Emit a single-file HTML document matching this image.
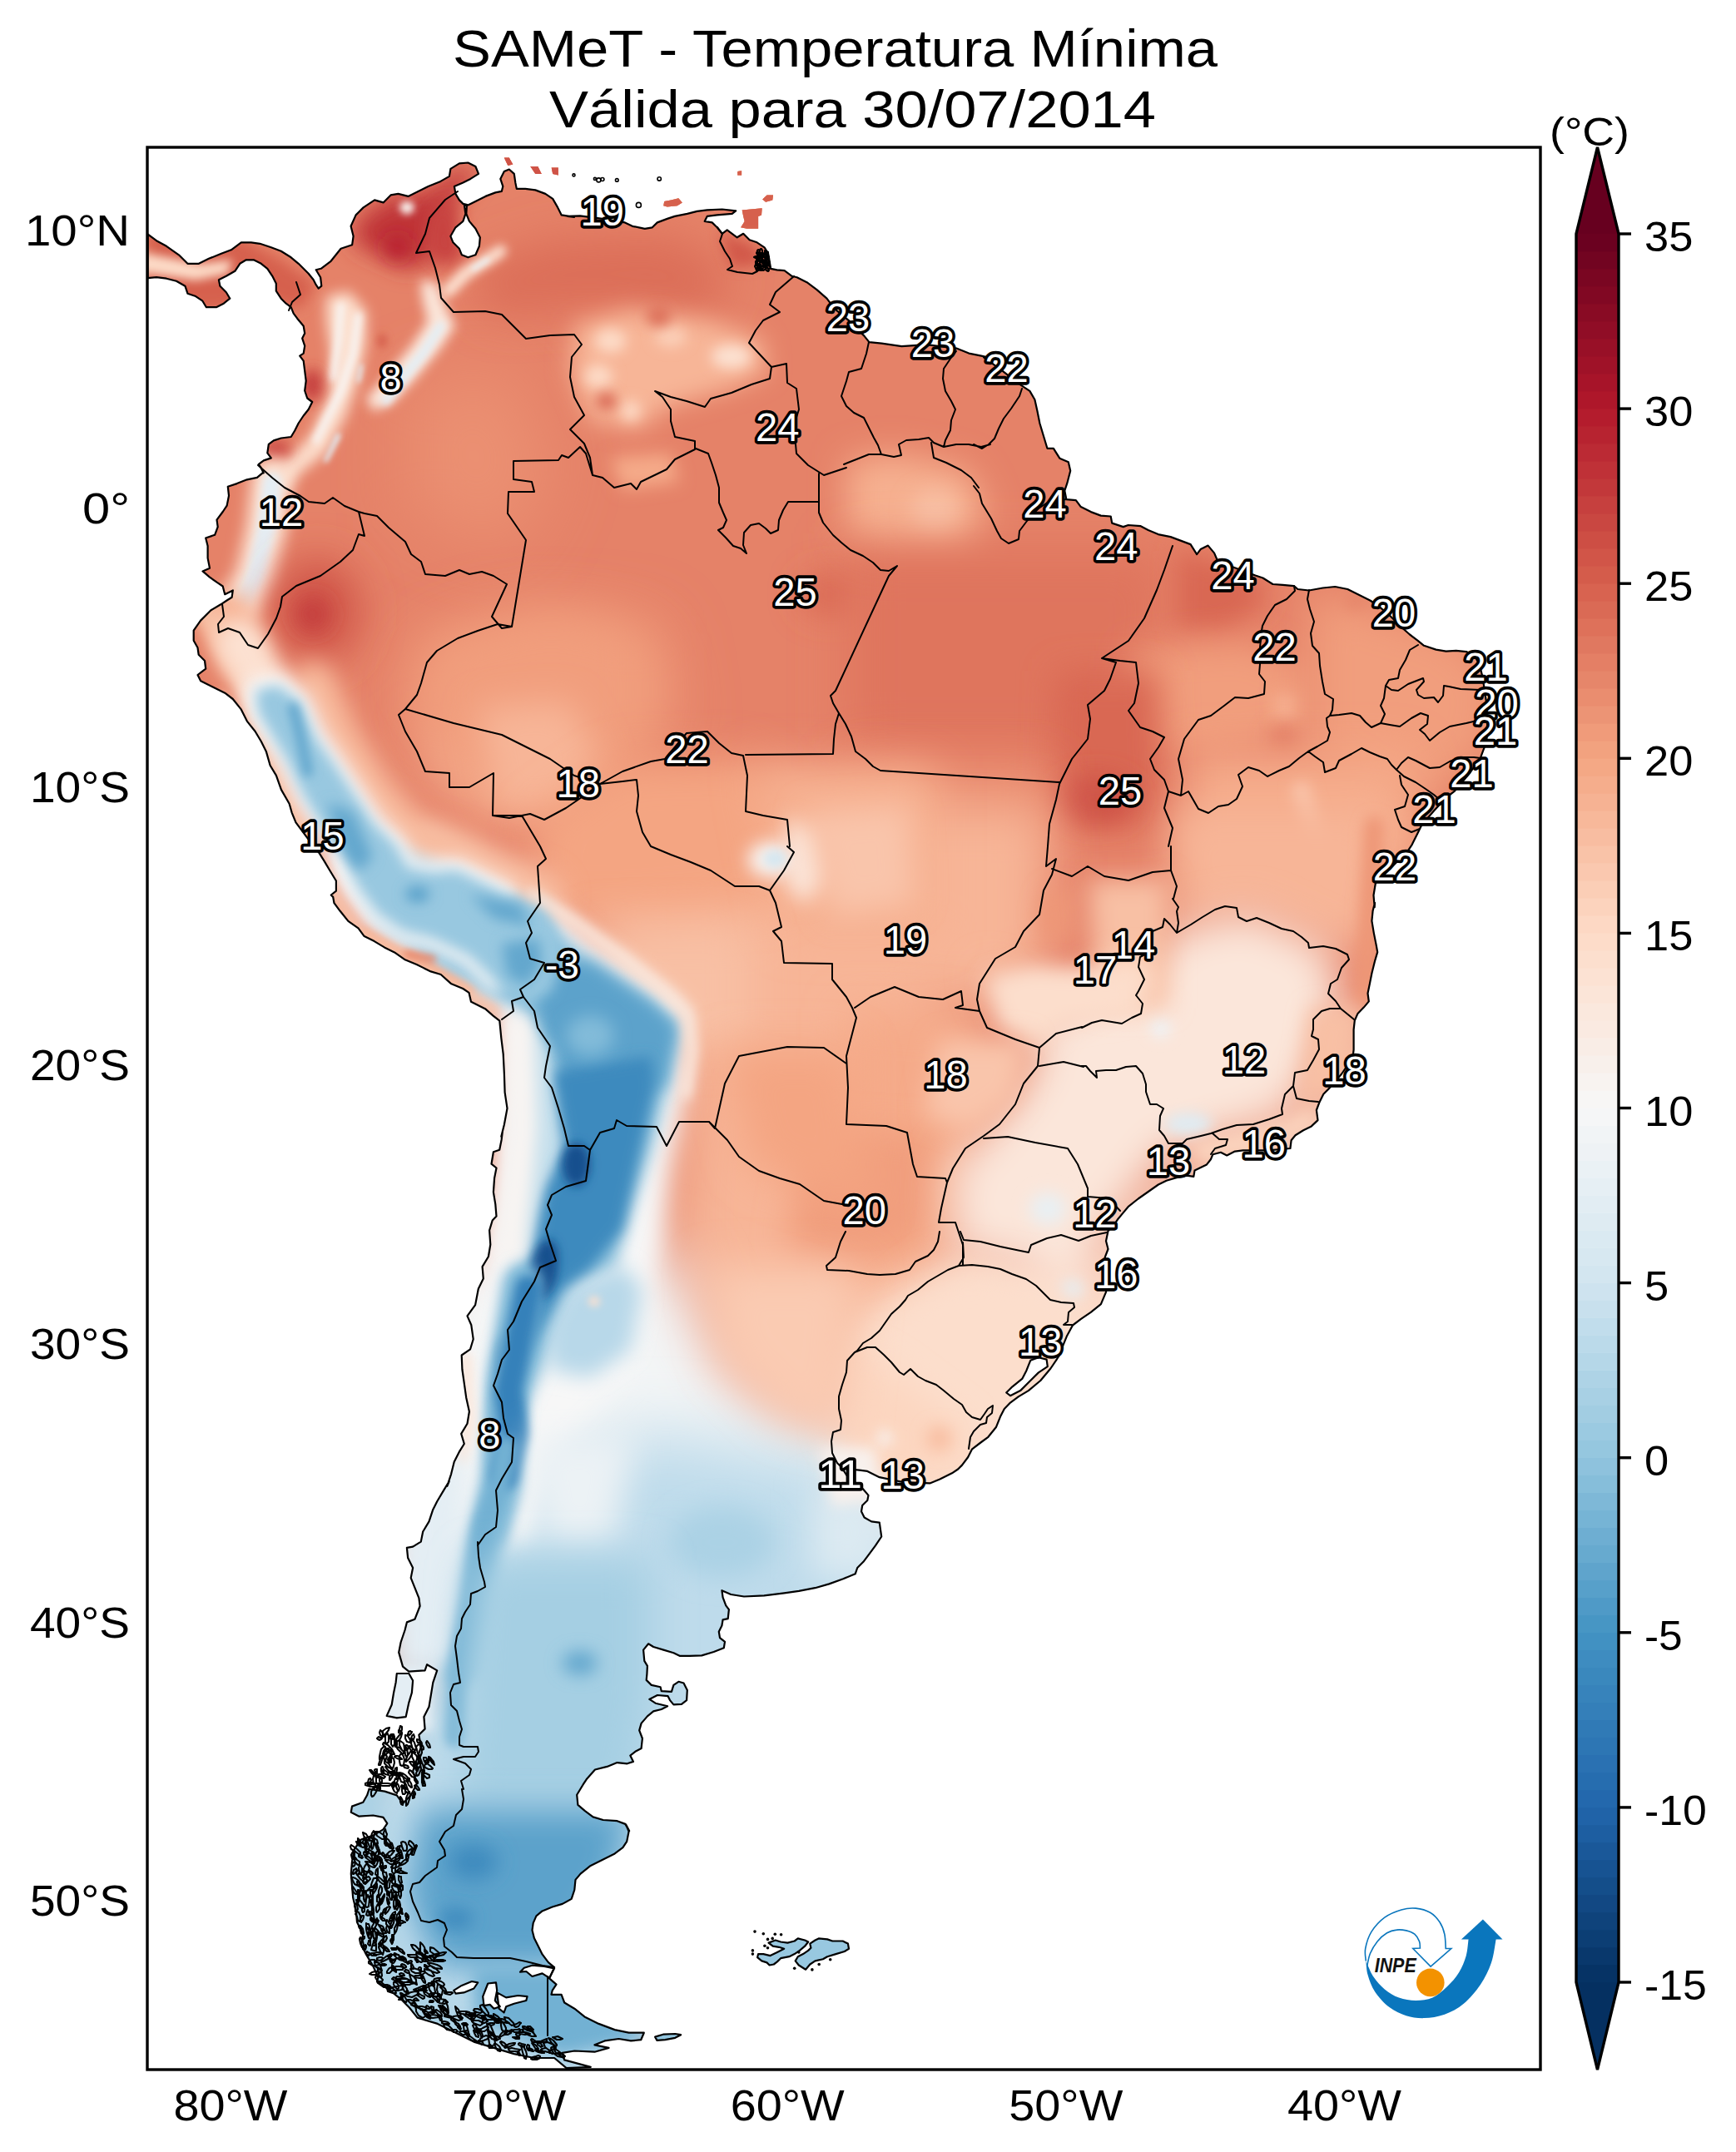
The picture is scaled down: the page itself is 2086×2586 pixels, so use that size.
<!DOCTYPE html><html><head><meta charset="utf-8"><title>SAMeT</title>
<style>html,body{margin:0;padding:0;background:#fff}svg{display:block}text{font-family:"Liberation Sans",sans-serif}</style></head><body>
<svg width="2086" height="2586" viewBox="0 0 2086 2586">
<defs>
<clipPath id="axclip"><rect x="177" y="177" width="1674" height="2310"/></clipPath>
<clipPath id="land" clip-rule="evenodd"><path clip-rule="evenodd" d="M177.5,281.4 L188.0,289.2 L200.0,295.8 L214.9,306.3 L225.4,316.8 L238.9,316.8 L250.9,310.8 L265.9,304.8 L277.8,300.3 L289.8,291.3 L301.8,291.3 L312.3,292.8 L325.8,297.3 L337.7,301.8 L349.7,309.3 L358.7,316.8 L364.7,322.8 L370.7,328.8 L376.7,336.2 L379.7,342.2 L382.7,346.7 L386.3,343.7 L385.1,333.2 L379.7,324.3 L385.7,322.8 L397.6,313.8 L409.6,298.8 L423.1,294.3 L424.6,283.8 L421.6,271.8 L427.6,258.4 L436.6,249.4 L450.1,240.4 L460.6,243.4 L469.5,234.4 L478.5,232.9 L490.5,235.9 L499.5,231.4 L514.5,223.9 L529.4,217.9 L539.9,211.9 L541.4,202.9 L551.9,196.4 L562.4,195.5 L571.4,200.0 L575.0,208.9 L565.4,214.9 L556.4,219.4 L545.9,223.9 L547.4,232.9 L551.9,240.4 L556.4,244.9 L562.4,246.4 L571.4,241.9 L583.4,235.9 L595.3,231.4 L602.8,229.9 L604.3,223.9 L601.3,214.9 L605.8,205.9 L611.8,203.5 L617.8,208.9 L619.3,219.4 L620.8,226.9 L631.3,226.9 L643.3,228.4 L655.3,232.9 L664.2,238.9 L670.2,249.4 L674.7,258.4 L690.0,260.8 L682.0,259.9 L697.0,259.3 L723.9,262.9 L750.9,267.4 L759.9,271.8 L774.8,274.8 L783.8,273.3 L789.8,267.4 L801.8,262.9 L810.8,259.9 L825.8,256.9 L837.7,253.9 L849.7,252.4 L867.7,251.5 L884.2,253.3 L879.7,256.9 L861.7,258.4 L849.7,259.9 L846.7,265.9 L855.7,267.4 L861.7,273.3 L867.7,280.8 L873.7,276.3 L879.7,280.8 L885.7,285.3 L893.2,280.8 L900.6,288.3 L909.6,291.3 L918.6,297.3 L923.1,304.8 L924.6,313.8 L926.1,322.8 L933.6,324.3 L942.6,325.2 L951.6,331.8 L957.6,333.2 L969.5,339.2 L981.5,348.2 L993.5,358.7 L1002.5,370.7 L1020.5,385.7 L1038.4,403.6 L1044.4,411.1 L1059.4,412.6 L1083.4,416.2 L1113.3,414.1 L1149.3,418.6 L1164.2,424.6 L1179.2,427.6 L1190.0,430.0 L1182.0,429.4 L1202.9,444.4 L1223.9,460.9 L1229.9,464.8 L1237.4,469.9 L1243.4,480.3 L1246.4,493.8 L1249.4,508.8 L1253.9,523.8 L1258.4,538.8 L1265.9,538.8 L1273.3,550.7 L1283.8,555.2 L1286.2,565.7 L1282.3,580.7 L1279.3,589.7 L1281.4,600.2 L1292.8,601.1 L1298.8,609.1 L1310.8,615.1 L1322.8,619.6 L1334.7,620.5 L1336.2,628.6 L1349.7,633.1 L1355.7,631.0 L1370.7,632.2 L1379.7,637.0 L1391.7,642.1 L1406.6,645.1 L1418.6,649.6 L1430.6,654.1 L1438.1,666.1 L1442.6,660.1 L1451.6,655.6 L1459.1,664.6 L1463.5,675.0 L1484.5,682.5 L1508.5,691.5 L1517.5,694.5 L1529.4,702.0 L1541.4,702.9 L1554.9,704.1 L1559.4,708.0 L1572.9,709.5 L1589.4,706.5 L1604.3,705.0 L1619.3,708.0 L1631.3,714.0 L1646.3,721.5 L1655.3,727.5 L1655.3,727.4 L1669.8,739.5 L1684.4,754.0 L1694.0,762.5 L1703.7,769.8 L1711.0,775.8 L1725.5,780.6 L1737.6,782.6 L1749.7,781.9 L1761.8,783.1 L1771.5,787.9 L1777.5,797.6 L1781.1,812.1 L1783.5,826.6 L1786.0,843.5 L1787.2,862.9 L1787.2,879.8 L1786.0,891.9 L1782.3,901.6 L1778.7,911.3 L1766.6,928.2 L1754.5,942.7 L1747.3,951.2 L1737.6,958.5 L1723.1,974.2 L1708.5,991.1 L1702.5,1003.2 L1696.5,1015.3 L1691.6,1022.6 L1672.3,1041.9 L1652.9,1061.3 L1650.5,1075.8 L1651.7,1090.1 L1652.0,1084.8 L1649.6,1094.5 L1648.4,1106.6 L1650.8,1121.1 L1653.7,1135.6 L1655.2,1144.1 L1652.0,1155.0 L1648.4,1169.5 L1646.0,1181.6 L1643.5,1193.7 L1644.8,1203.4 L1638.7,1210.6 L1631.5,1217.9 L1627.8,1226.4 L1626.6,1237.3 L1626.6,1249.4 L1626.6,1261.5 L1625.4,1271.1 L1612.1,1290.5 L1597.6,1307.4 L1590.3,1314.7 L1585.5,1324.4 L1581.9,1334.0 L1583.5,1346.1 L1575.8,1353.4 L1566.1,1358.2 L1556.5,1364.3 L1551.6,1370.3 L1550.4,1380.0 L1522.6,1382.4 L1493.5,1382.4 L1483.9,1383.6 L1474.2,1388.5 L1466.9,1384.8 L1457.3,1387.3 L1454.8,1393.3 L1450.0,1399.4 L1442.7,1403.0 L1435.5,1406.6 L1434.3,1413.9 L1425.8,1412.7 L1413.7,1415.1 L1401.6,1418.7 L1391.9,1423.5 L1379.8,1432.0 L1367.7,1440.5 L1355.6,1450.2 L1349.6,1457.4 L1343.5,1464.7 L1338.7,1471.9 L1331.5,1479.2 L1329.0,1491.3 L1331.5,1501.0 L1327.8,1510.6 L1326.6,1520.1 L1331.4,1533.2 L1329.0,1552.6 L1322.9,1567.1 L1310.8,1576.8 L1298.7,1585.2 L1289.0,1592.5 L1281.8,1605.8 L1276.9,1617.9 L1272.1,1630.0 L1262.4,1644.5 L1250.3,1659.0 L1235.8,1671.1 L1223.7,1678.4 L1214.0,1685.6 L1206.8,1692.9 L1201.9,1702.6 L1197.1,1714.7 L1187.4,1726.8 L1177.7,1734.0 L1168.1,1741.3 L1163.2,1751.0 L1156.0,1760.6 L1151.1,1765.5 L1143.9,1770.3 L1129.4,1777.6 L1117.3,1782.4 L1085.8,1781.2 L1056.8,1775.2 L1042.3,1767.9 L1032.6,1766.7 L1020.5,1765.5 L1012.0,1764.3 L1018.1,1774.0 L1030.2,1783.6 L1037.4,1789.7 L1043.5,1796.9 L1042.3,1803.0 L1036.2,1809.0 L1035.0,1816.3 L1038.6,1823.5 L1047.1,1828.4 L1056.8,1829.6 L1058.0,1838.1 L1059.2,1846.5 L1051.9,1857.4 L1044.7,1867.1 L1037.4,1876.8 L1030.2,1884.0 L1027.7,1891.3 L1013.2,1897.3 L996.3,1903.4 L979.4,1908.2 L960.0,1911.9 L942.4,1914.4 L918.2,1917.3 L894.0,1918.5 L878.3,1916.0 L867.4,1911.2 L868.6,1919.7 L872.3,1929.4 L875.9,1934.2 L874.7,1945.1 L868.6,1946.3 L867.4,1953.5 L863.8,1960.8 L865.0,1968.1 L871.0,1972.9 L869.8,1980.2 L857.7,1985.0 L843.2,1989.4 L828.7,1989.8 L816.6,1989.8 L809.4,1986.2 L797.3,1982.6 L785.2,1979.0 L779.1,1975.3 L773.1,1982.6 L774.3,1995.9 L777.9,2001.9 L777.4,2011.6 L776.7,2018.9 L782.7,2024.9 L793.6,2027.3 L794.8,2032.2 L806.9,2032.9 L809.4,2024.9 L815.4,2020.8 L821.5,2022.5 L825.8,2031.0 L825.1,2043.1 L819.0,2047.9 L809.4,2048.4 L805.0,2043.1 L802.6,2038.2 L790.0,2037.0 L780.3,2041.9 L787.6,2046.7 L802.1,2050.3 L794.8,2054.0 L785.2,2056.4 L777.9,2062.4 L770.6,2070.9 L768.2,2079.4 L771.9,2089.0 L770.6,2101.1 L763.4,2104.8 L757.3,2109.6 L761.0,2116.9 L753.7,2119.3 L741.6,2118.1 L729.5,2122.9 L715.0,2126.5 L705.3,2137.4 L700.5,2144.7 L693.2,2156.8 L694.4,2168.9 L702.9,2176.1 L712.6,2183.4 L724.7,2187.0 L741.6,2188.2 L751.3,2191.9 L756.1,2200.1 L752.0,2192.3 L755.6,2200.8 L753.2,2212.9 L748.4,2220.2 L738.7,2227.4 L724.2,2234.7 L709.7,2241.9 L697.6,2251.6 L691.5,2258.9 L690.3,2271.0 L686.7,2281.9 L675.8,2287.9 L663.7,2291.5 L651.6,2296.4 L644.4,2302.4 L640.7,2310.9 L639.5,2319.4 L641.9,2329.0 L646.8,2338.7 L651.6,2348.4 L658.9,2358.1 L666.1,2364.1 L660.1,2377.4 L668.5,2384.7 L663.7,2391.9 L662.5,2396.8 L674.6,2396.8 L678.2,2406.5 L690.3,2413.7 L702.4,2423.4 L719.4,2431.9 L738.7,2439.1 L755.6,2442.7 L773.8,2442.7 L770.2,2451.2 L758.1,2452.4 L743.5,2450.0 L726.6,2452.4 L714.5,2457.3 L731.5,2460.9 L714.5,2465.7 L690.3,2464.5 L675.8,2466.9 L678.2,2475.4 L709.7,2483.9 L680.6,2485.1 L666.1,2473.0 L641.9,2473.0 L617.7,2468.1 L593.5,2460.9 L569.4,2453.6 L545.2,2441.5 L525.8,2431.9 L501.6,2424.6 L491.9,2412.5 L482.3,2402.8 L470.2,2393.1 L453.2,2381.0 L454.4,2376.2 L448.4,2362.9 L439.9,2348.4 L433.9,2336.3 L436.3,2324.2 L429.0,2309.7 L427.8,2295.2 L424.2,2280.6 L423.0,2266.1 L421.8,2251.6 L423.0,2237.1 L425.4,2222.6 L433.9,2210.5 L448.4,2205.6 L460.5,2198.4 L465.3,2191.1 L460.5,2183.9 L448.4,2181.5 L431.5,2182.7 L421.8,2177.8 L423.0,2170.6 L436.3,2165.7 L441.1,2157.3 L443.5,2150.0 L443.4,2149.9 L462.3,2152.6 L476.8,2157.4 L484.0,2167.1 L493.7,2157.4 L501.0,2142.9 L496.1,2128.4 L501.0,2113.9 L505.8,2099.4 L503.4,2084.8 L510.6,2077.6 L509.4,2063.1 L515.5,2051.0 L517.9,2036.5 L520.3,2021.9 L525.2,2007.4 L513.1,2000.2 L510.6,2007.4 L491.3,2008.6 L484.0,2002.6 L479.2,1985.6 L481.6,1973.5 L486.5,1959.0 L488.9,1949.4 L498.5,1945.7 L504.6,1930.0 L503.4,1920.3 L498.5,1908.2 L493.7,1896.1 L496.1,1884.0 L490.1,1871.9 L488.9,1859.8 L496.1,1858.6 L505.8,1852.6 L508.2,1840.5 L515.5,1828.4 L520.3,1813.9 L525.2,1804.2 L532.4,1792.1 L539.7,1780.0 L537.3,1785.8 L542.1,1771.3 L545.7,1756.8 L551.8,1744.7 L557.8,1735.0 L554.2,1722.9 L561.5,1710.8 L563.9,1696.3 L560.2,1679.4 L557.8,1662.4 L555.4,1645.5 L554.7,1628.5 L565.1,1621.3 L568.7,1609.2 L566.3,1592.3 L561.5,1581.4 L571.1,1568.1 L574.8,1548.7 L580.8,1536.6 L579.6,1522.1 L586.9,1510.0 L589.3,1495.5 L588.1,1478.5 L591.7,1466.5 L596.5,1461.6 L595.3,1447.1 L592.9,1432.6 L594.1,1415.6 L596.5,1403.5 L590.5,1398.7 L592.9,1384.2 L600.2,1381.8 L602.6,1369.7 L603.8,1360.0 L602.3,1365.8 L605.9,1351.3 L609.5,1331.9 L606.6,1312.6 L605.9,1290.8 L604.7,1266.6 L602.3,1247.3 L600.3,1226.7 L592.6,1220.6 L582.9,1212.2 L566.0,1203.7 L563.5,1192.8 L556.3,1188.0 L541.8,1181.9 L529.7,1171.0 L517.6,1167.4 L500.6,1159.0 L486.1,1152.9 L474.0,1144.4 L461.9,1138.4 L449.8,1131.1 L437.7,1125.1 L430.5,1115.4 L418.4,1106.9 L408.7,1094.8 L401.5,1085.2 L400.2,1077.9 L397.8,1075.5 L403.9,1070.6 L403.9,1058.5 L396.6,1046.5 L389.4,1034.4 L383.3,1024.7 L370.0,1007.7 L355.5,988.4 L350.6,976.3 L347.6,965.8 L337.9,948.9 L331.9,931.9 L324.6,919.8 L319.8,902.9 L313.7,890.8 L306.5,878.7 L296.8,866.6 L289.5,852.1 L279.8,840.0 L270.2,832.7 L255.6,825.5 L241.1,818.2 L237.5,811.0 L242.3,807.3 L247.2,803.7 L246.0,794.0 L238.7,786.8 L237.5,778.3 L232.7,769.8 L232.7,757.7 L241.1,745.6 L253.2,733.5 L265.3,726.3 L272.6,721.5 L278.6,717.8 L279.8,709.4 L270.2,714.2 L267.7,704.5 L260.5,699.7 L252.0,693.6 L243.5,686.4 L252.0,682.7 L249.6,670.6 L249.6,656.1 L247.2,646.5 L258.1,642.8 L261.7,633.1 L260.5,624.7 L267.7,615.0 L272.6,607.7 L275.0,595.6 L273.8,584.8 L284.7,581.1 L296.8,576.3 L308.9,573.9 L316.1,567.8 L316.8,568.4 L313.8,562.4 L310.8,557.9 L316.8,553.4 L325.8,550.4 L321.3,544.4 L322.8,533.9 L328.8,529.4 L337.7,526.5 L349.7,525.0 L354.2,517.5 L358.7,508.5 L364.7,499.5 L370.7,492.0 L375.2,483.0 L369.2,478.5 L366.2,469.5 L367.7,457.6 L366.2,445.6 L364.7,433.6 L360.2,427.6 L364.7,424.6 L366.2,415.6 L363.2,406.6 L366.2,400.6 L364.7,391.7 L357.2,382.7 L352.7,376.7 L349.7,369.2 L343.7,364.7 L337.7,358.7 L331.8,349.7 L331.8,340.7 L327.3,331.8 L321.3,322.8 L313.8,316.8 L304.8,312.3 L295.8,312.3 L288.3,316.8 L282.3,325.8 L271.8,331.8 L262.9,336.2 L264.4,343.7 L271.8,351.2 L276.3,358.7 L268.8,364.7 L259.9,369.2 L247.9,369.2 L243.4,361.7 L234.4,355.7 L225.4,352.7 L222.4,343.7 L211.9,337.7 L200.0,334.7 L188.0,333.2 L177.5,334.1ZM557.9,246.4 L559.4,256.9 L556.4,265.9 L547.4,273.3 L541.4,283.8 L544.4,291.3 L551.9,298.8 L554.9,306.3 L562.4,309.3 L571.4,306.3 L575.9,295.8 L576.8,285.3 L571.4,274.8 L563.9,265.9 L560.3,256.9 L560.9,247.3ZM1238.2,1634.8 L1247.9,1631.2 L1257.6,1633.6 L1258.8,1642.1 L1247.9,1649.4 L1238.2,1659.0 L1226.1,1671.1 L1214.0,1677.2 L1209.2,1673.5 L1216.5,1666.3 L1228.5,1656.6 L1233.4,1646.9ZM666.1,2365.3 L654.0,2362.9 L639.5,2361.7 L629.8,2364.8 L625.0,2369.7 L632.3,2369.0 L639.5,2375.0 L651.6,2371.4 L660.1,2376.9ZM545.2,2391.9 L554.8,2385.9 L566.9,2381.0 L574.2,2382.3 L569.4,2389.5 L557.3,2394.4 L547.6,2395.6ZM586.3,2383.5 L596.0,2382.3 L597.2,2391.9 L594.8,2404.0 L600.8,2411.3 L593.5,2413.7 L588.7,2408.9 L581.5,2410.1 L580.2,2399.2ZM597.2,2394.4 L608.1,2400.4 L622.6,2398.0 L633.5,2399.2 L632.3,2404.0 L617.7,2407.7 L608.1,2411.3 L605.6,2418.5 L599.6,2413.7 L598.4,2404.0ZM891.7,252.4 L915.6,250.3 L915.0,258.4 L911.1,259.9 L911.1,274.8 L897.6,274.8 L890.2,273.3 L894.7,265.9 L893.2,259.9ZM916.2,239.5 L921.6,234.4 L929.1,234.4 L928.2,240.4 L920.1,242.8ZM886.3,205.9 L891.1,205.3 L891.1,210.4 L886.3,210.4ZM798.2,241.9 L806.3,240.4 L815.3,238.3 L819.8,243.4 L813.8,247.3 L801.8,248.5 L797.3,247.3ZM476.8,2011.0 L491.3,2011.0 L496.1,2019.5 L494.9,2034.0 L491.3,2046.1 L487.7,2063.1 L476.8,2064.3 L464.7,2061.9 L470.7,2048.5 L473.1,2034.0 L475.6,2021.9ZM787.1,2447.6 L796.8,2444.7 L811.3,2444.0 L818.1,2445.2 L811.3,2448.8 L799.2,2451.2 L789.5,2451.9ZM923.5,2334.6 L931.8,2331.5 L938.1,2333.5 L946.4,2334.6 L954.7,2332.5 L958.8,2329.4 L967.1,2331.5 L971.2,2333.5 L967.1,2338.7 L960.9,2343.9 L954.7,2348.1 L948.4,2351.2 L938.1,2353.2 L933.9,2357.4 L929.8,2360.5 L924.6,2361.5 L921.5,2358.4 L915.3,2356.4 L910.1,2352.2 L911.1,2348.1 L917.3,2348.1 L925.6,2350.1 L933.9,2346.0 L942.2,2341.8 L936.0,2339.8 L928.7,2338.7ZM973.3,2335.6 L979.5,2331.5 L983.7,2329.4 L994.1,2330.4 L1000.3,2332.5 L1012.7,2332.5 L1018.9,2335.6 L1020.0,2341.8 L1014.8,2345.0 L1004.4,2348.1 L994.1,2351.2 L988.9,2354.3 L979.5,2356.4 L973.3,2360.5 L968.1,2366.7 L959.8,2361.5 L955.7,2356.4 L958.8,2351.2 L965.0,2348.1 L971.2,2343.9 L974.4,2340.8ZM605.8,189.5 L611.8,189.5 L616.3,197.6 L610.3,199.1ZM637.3,200.0 L646.3,200.0 L650.8,208.9 L643.3,208.9ZM662.7,201.5 L670.8,201.5 L670.8,210.4 L664.2,208.9Z"/></clipPath>
<linearGradient id="cb" x1="0" y1="1" x2="0" y2="0">
<stop offset="0.00" stop-color="#053061"/>
<stop offset="0.10" stop-color="#2166ac"/>
<stop offset="0.20" stop-color="#4393c3"/>
<stop offset="0.30" stop-color="#92c5de"/>
<stop offset="0.40" stop-color="#d1e5f0"/>
<stop offset="0.50" stop-color="#f7f7f7"/>
<stop offset="0.60" stop-color="#fddbc7"/>
<stop offset="0.70" stop-color="#f4a582"/>
<stop offset="0.80" stop-color="#d6604d"/>
<stop offset="0.90" stop-color="#b2182b"/>
<stop offset="1.00" stop-color="#67001f"/>
</linearGradient>
</defs>
<rect width="2086" height="2586" fill="#fff"/>
<g clip-path="url(#axclip)">
<g clip-path="url(#land)">
<rect x="177" y="177" width="1674" height="2310" fill="#e88a6c"/>
<defs><filter id="f0" filterUnits="userSpaceOnUse" x="554" y="886" width="698" height="925"><feGaussianBlur stdDeviation="35"/></filter><filter id="f1" filterUnits="userSpaceOnUse" x="360" y="1394" width="891" height="698"><feGaussianBlur stdDeviation="35"/></filter><filter id="f2" filterUnits="userSpaceOnUse" x="152" y="1597" width="1067" height="1284"><feGaussianBlur stdDeviation="40"/></filter><filter id="f3" filterUnits="userSpaceOnUse" x="1046" y="1119" width="789" height="813"><feGaussianBlur stdDeviation="30"/></filter><filter id="f4" filterUnits="userSpaceOnUse" x="940" y="1424" width="469" height="469"><feGaussianBlur stdDeviation="25"/></filter><filter id="f5" filterUnits="userSpaceOnUse" x="370" y="321" width="413" height="462"><feGaussianBlur stdDeviation="40"/></filter><filter id="f6" filterUnits="userSpaceOnUse" x="487" y="206" width="469" height="251"><feGaussianBlur stdDeviation="25"/></filter><filter id="f7" filterUnits="userSpaceOnUse" x="370" y="626" width="559" height="399"><feGaussianBlur stdDeviation="40"/></filter><filter id="f8" filterUnits="userSpaceOnUse" x="414" y="777" width="363" height="290"><feGaussianBlur stdDeviation="30"/></filter><filter id="f9" filterUnits="userSpaceOnUse" x="531" y="806" width="212" height="202"><feGaussianBlur stdDeviation="25"/></filter><filter id="f10" filterUnits="userSpaceOnUse" x="904" y="630" width="192" height="168"><feGaussianBlur stdDeviation="20"/></filter><filter id="f11" filterUnits="userSpaceOnUse" x="380" y="155" width="236" height="211"><feGaussianBlur stdDeviation="14"/></filter><filter id="f12" filterUnits="userSpaceOnUse" x="479" y="203" width="112" height="151"><feGaussianBlur stdDeviation="10"/></filter><filter id="f13" filterUnits="userSpaceOnUse" x="424" y="245" width="105" height="105"><feGaussianBlur stdDeviation="12"/></filter><filter id="f14" filterUnits="userSpaceOnUse" x="151" y="248" width="255" height="149"><feGaussianBlur stdDeviation="8"/></filter><filter id="f15" filterUnits="userSpaceOnUse" x="147" y="283" width="151" height="74"><feGaussianBlur stdDeviation="6"/></filter><filter id="f16" filterUnits="userSpaceOnUse" x="641" y="327" width="325" height="233"><feGaussianBlur stdDeviation="14"/></filter><filter id="f17" filterUnits="userSpaceOnUse" x="688" y="369" width="91" height="81"><feGaussianBlur stdDeviation="8"/></filter><filter id="f18" filterUnits="userSpaceOnUse" x="676" y="412" width="86" height="81"><feGaussianBlur stdDeviation="8"/></filter><filter id="f19" filterUnits="userSpaceOnUse" x="828" y="388" width="100" height="81"><feGaussianBlur stdDeviation="8"/></filter><filter id="f20" filterUnits="userSpaceOnUse" x="720" y="456" width="76" height="76"><feGaussianBlur stdDeviation="8"/></filter><filter id="f21" filterUnits="userSpaceOnUse" x="761" y="366" width="91" height="76"><feGaussianBlur stdDeviation="8"/></filter><filter id="f22" filterUnits="userSpaceOnUse" x="751" y="342" width="81" height="76"><feGaussianBlur stdDeviation="8"/></filter><filter id="f23" filterUnits="userSpaceOnUse" x="691" y="446" width="76" height="71"><feGaussianBlur stdDeviation="8"/></filter><filter id="f24" filterUnits="userSpaceOnUse" x="701" y="513" width="146" height="108"><feGaussianBlur stdDeviation="10"/></filter><filter id="f25" filterUnits="userSpaceOnUse" x="838" y="253" width="110" height="96"><feGaussianBlur stdDeviation="8"/></filter><filter id="f26" filterUnits="userSpaceOnUse" x="288" y="324" width="178" height="292"><feGaussianBlur stdDeviation="8"/></filter><filter id="f27" filterUnits="userSpaceOnUse" x="382" y="349" width="46" height="124"><feGaussianBlur stdDeviation="4"/></filter><filter id="f28" filterUnits="userSpaceOnUse" x="361" y="361" width="88" height="187"><feGaussianBlur stdDeviation="4"/></filter><filter id="f29" filterUnits="userSpaceOnUse" x="418" y="427" width="29" height="44"><feGaussianBlur stdDeviation="3"/></filter><filter id="f30" filterUnits="userSpaceOnUse" x="378" y="510" width="42" height="57"><feGaussianBlur stdDeviation="3"/></filter><filter id="f31" filterUnits="userSpaceOnUse" x="417" y="315" width="154" height="202"><feGaussianBlur stdDeviation="7"/></filter><filter id="f32" filterUnits="userSpaceOnUse" x="444" y="372" width="105" height="129"><feGaussianBlur stdDeviation="4"/></filter><filter id="f33" filterUnits="userSpaceOnUse" x="511" y="274" width="118" height="103"><feGaussianBlur stdDeviation="6"/></filter><filter id="f34" filterUnits="userSpaceOnUse" x="555" y="299" width="45" height="37"><feGaussianBlur stdDeviation="3"/></filter><filter id="f35" filterUnits="userSpaceOnUse" x="436" y="384" width="46" height="52"><feGaussianBlur stdDeviation="5"/></filter><filter id="f36" filterUnits="userSpaceOnUse" x="466" y="228" width="46" height="44"><feGaussianBlur stdDeviation="4"/></filter><filter id="f37" filterUnits="userSpaceOnUse" x="337" y="417" width="76" height="91"><feGaussianBlur stdDeviation="8"/></filter><filter id="f38" filterUnits="userSpaceOnUse" x="289" y="504" width="86" height="71"><feGaussianBlur stdDeviation="8"/></filter><filter id="f39" filterUnits="userSpaceOnUse" x="238" y="521" width="142" height="256"><feGaussianBlur stdDeviation="9"/></filter><filter id="f40" filterUnits="userSpaceOnUse" x="265" y="551" width="90" height="196"><feGaussianBlur stdDeviation="5"/></filter><filter id="f41" filterUnits="userSpaceOnUse" x="250" y="594" width="260" height="280"><feGaussianBlur stdDeviation="25"/></filter><filter id="f42" filterUnits="userSpaceOnUse" x="318" y="681" width="115" height="115"><feGaussianBlur stdDeviation="12"/></filter><filter id="f43" filterUnits="userSpaceOnUse" x="192" y="671" width="168" height="182"><feGaussianBlur stdDeviation="12"/></filter><filter id="f44" filterUnits="userSpaceOnUse" x="202" y="686" width="207" height="369"><feGaussianBlur stdDeviation="8"/></filter><filter id="f45" filterUnits="userSpaceOnUse" x="221" y="705" width="182" height="216"><feGaussianBlur stdDeviation="12"/></filter><filter id="f46" filterUnits="userSpaceOnUse" x="955" y="483" width="293" height="240"><feGaussianBlur stdDeviation="20"/></filter><filter id="f47" filterUnits="userSpaceOnUse" x="1056" y="550" width="134" height="124"><feGaussianBlur stdDeviation="12"/></filter><filter id="f48" filterUnits="userSpaceOnUse" x="925" y="569" width="571" height="426"><feGaussianBlur stdDeviation="30"/></filter><filter id="f49" filterUnits="userSpaceOnUse" x="1367" y="614" width="205" height="191"><feGaussianBlur stdDeviation="15"/></filter><filter id="f50" filterUnits="userSpaceOnUse" x="1294" y="710" width="342" height="255"><feGaussianBlur stdDeviation="20"/></filter><filter id="f51" filterUnits="userSpaceOnUse" x="1498" y="803" width="93" height="93"><feGaussianBlur stdDeviation="10"/></filter><filter id="f52" filterUnits="userSpaceOnUse" x="1290" y="798" width="93" height="103"><feGaussianBlur stdDeviation="10"/></filter><filter id="f53" filterUnits="userSpaceOnUse" x="1202" y="744" width="259" height="313"><feGaussianBlur stdDeviation="20"/></filter><filter id="f54" filterUnits="userSpaceOnUse" x="1222" y="885" width="191" height="152"><feGaussianBlur stdDeviation="15"/></filter><filter id="f55" filterUnits="userSpaceOnUse" x="1487" y="836" width="115" height="105"><feGaussianBlur stdDeviation="12"/></filter><filter id="f56" filterUnits="userSpaceOnUse" x="1618" y="768" width="76" height="76"><feGaussianBlur stdDeviation="8"/></filter><filter id="f57" filterUnits="userSpaceOnUse" x="1589" y="693" width="76" height="71"><feGaussianBlur stdDeviation="8"/></filter><filter id="f58" filterUnits="userSpaceOnUse" x="1496" y="632" width="381" height="420"><feGaussianBlur stdDeviation="25"/></filter><filter id="f59" filterUnits="userSpaceOnUse" x="1351" y="826" width="444" height="299"><feGaussianBlur stdDeviation="25"/></filter><filter id="f60" filterUnits="userSpaceOnUse" x="1526" y="913" width="105" height="172"><feGaussianBlur stdDeviation="8"/></filter><filter id="f61" filterUnits="userSpaceOnUse" x="925" y="835" width="426" height="305"><feGaussianBlur stdDeviation="30"/></filter><filter id="f62" filterUnits="userSpaceOnUse" x="780" y="877" width="571" height="426"><feGaussianBlur stdDeviation="30"/></filter><filter id="f63" filterUnits="userSpaceOnUse" x="940" y="1134" width="338" height="469"><feGaussianBlur stdDeviation="25"/></filter><filter id="f64" filterUnits="userSpaceOnUse" x="882" y="1294" width="308" height="293"><feGaussianBlur stdDeviation="20"/></filter><filter id="f65" filterUnits="userSpaceOnUse" x="1327" y="892" width="420" height="323"><feGaussianBlur stdDeviation="25"/></filter><filter id="f66" filterUnits="userSpaceOnUse" x="1061" y="1017" width="628" height="633"><feGaussianBlur stdDeviation="25"/></filter><filter id="f67" filterUnits="userSpaceOnUse" x="1373" y="1311" width="110" height="79"><feGaussianBlur stdDeviation="8"/></filter><filter id="f68" filterUnits="userSpaceOnUse" x="1205" y="1401" width="108" height="103"><feGaussianBlur stdDeviation="10"/></filter><filter id="f69" filterUnits="userSpaceOnUse" x="1247" y="1511" width="81" height="76"><feGaussianBlur stdDeviation="8"/></filter><filter id="f70" filterUnits="userSpaceOnUse" x="1356" y="1197" width="76" height="76"><feGaussianBlur stdDeviation="8"/></filter><filter id="f71" filterUnits="userSpaceOnUse" x="1211" y="1027" width="115" height="144"><feGaussianBlur stdDeviation="12"/></filter><filter id="f72" filterUnits="userSpaceOnUse" x="1260" y="1009" width="191" height="249"><feGaussianBlur stdDeviation="15"/></filter><filter id="f73" filterUnits="userSpaceOnUse" x="1275" y="1101" width="162" height="152"><feGaussianBlur stdDeviation="15"/></filter><filter id="f74" filterUnits="userSpaceOnUse" x="1603" y="955" width="86" height="284"><feGaussianBlur stdDeviation="8"/></filter><filter id="f75" filterUnits="userSpaceOnUse" x="1521" y="1173" width="153" height="192"><feGaussianBlur stdDeviation="12"/></filter><filter id="f76" filterUnits="userSpaceOnUse" x="1396" y="1295" width="219" height="137"><feGaussianBlur stdDeviation="10"/></filter><filter id="f77" filterUnits="userSpaceOnUse" x="940" y="1448" width="425" height="372"><feGaussianBlur stdDeviation="25"/></filter><filter id="f78" filterUnits="userSpaceOnUse" x="940" y="1560" width="284" height="284"><feGaussianBlur stdDeviation="20"/></filter><filter id="f79" filterUnits="userSpaceOnUse" x="1082" y="1682" width="93" height="93"><feGaussianBlur stdDeviation="10"/></filter><filter id="f80" filterUnits="userSpaceOnUse" x="1027" y="1693" width="71" height="71"><feGaussianBlur stdDeviation="8"/></filter><filter id="f81" filterUnits="userSpaceOnUse" x="409" y="641" width="466" height="434"><feGaussianBlur stdDeviation="30"/></filter><filter id="f82" filterUnits="userSpaceOnUse" x="511" y="780" width="273" height="253"><feGaussianBlur stdDeviation="20"/></filter><filter id="f83" filterUnits="userSpaceOnUse" x="565" y="834" width="477" height="343"><feGaussianBlur stdDeviation="25"/></filter><filter id="f84" filterUnits="userSpaceOnUse" x="827" y="838" width="376" height="364"><feGaussianBlur stdDeviation="25"/></filter><filter id="f85" filterUnits="userSpaceOnUse" x="632" y="1037" width="348" height="299"><feGaussianBlur stdDeviation="25"/></filter><filter id="f86" filterUnits="userSpaceOnUse" x="792" y="1182" width="333" height="348"><feGaussianBlur stdDeviation="25"/></filter><filter id="f87" filterUnits="userSpaceOnUse" x="341" y="958" width="528" height="943"><feGaussianBlur stdDeviation="14"/></filter><filter id="f88" filterUnits="userSpaceOnUse" x="387" y="980" width="461" height="909"><feGaussianBlur stdDeviation="10"/></filter><filter id="f89" filterUnits="userSpaceOnUse" x="600" y="1125" width="245" height="214"><feGaussianBlur stdDeviation="10"/></filter><filter id="f90" filterUnits="userSpaceOnUse" x="580" y="1203" width="132" height="330"><feGaussianBlur stdDeviation="10"/></filter><filter id="f91" filterUnits="userSpaceOnUse" x="618" y="1482" width="192" height="211"><feGaussianBlur stdDeviation="12"/></filter><filter id="f92" filterUnits="userSpaceOnUse" x="567" y="1243" width="246" height="575"><feGaussianBlur stdDeviation="8"/></filter><filter id="f93" filterUnits="userSpaceOnUse" x="648" y="1188" width="122" height="112"><feGaussianBlur stdDeviation="10"/></filter><filter id="f94" filterUnits="userSpaceOnUse" x="655" y="1353" width="74" height="93"><feGaussianBlur stdDeviation="6"/></filter><filter id="f95" filterUnits="userSpaceOnUse" x="616" y="1469" width="76" height="111"><feGaussianBlur stdDeviation="6"/></filter><filter id="f96" filterUnits="userSpaceOnUse" x="579" y="1582" width="67" height="98"><feGaussianBlur stdDeviation="6"/></filter><filter id="f97" filterUnits="userSpaceOnUse" x="443" y="1025" width="146" height="111"><feGaussianBlur stdDeviation="10"/></filter><filter id="f98" filterUnits="userSpaceOnUse" x="530" y="1053" width="126" height="112"><feGaussianBlur stdDeviation="10"/></filter><filter id="f99" filterUnits="userSpaceOnUse" x="415" y="1098" width="172" height="116"><feGaussianBlur stdDeviation="5"/></filter><filter id="f100" filterUnits="userSpaceOnUse" x="561" y="1183" width="117" height="369"><feGaussianBlur stdDeviation="10"/></filter><filter id="f101" filterUnits="userSpaceOnUse" x="690" y="1541" width="49" height="46"><feGaussianBlur stdDeviation="5"/></filter><filter id="f102" filterUnits="userSpaceOnUse" x="306" y="751" width="417" height="393"><feGaussianBlur stdDeviation="14"/></filter><filter id="f103" filterUnits="userSpaceOnUse" x="261" y="778" width="393" height="447"><feGaussianBlur stdDeviation="10"/></filter><filter id="f104" filterUnits="userSpaceOnUse" x="239" y="812" width="381" height="429"><feGaussianBlur stdDeviation="6"/></filter><filter id="f105" filterUnits="userSpaceOnUse" x="471" y="1128" width="67" height="43"><feGaussianBlur stdDeviation="4"/></filter><filter id="f106" filterUnits="userSpaceOnUse" x="281" y="797" width="420" height="438"><feGaussianBlur stdDeviation="8"/></filter><filter id="f107" filterUnits="userSpaceOnUse" x="326" y="824" width="70" height="130"><feGaussianBlur stdDeviation="6"/></filter><filter id="f108" filterUnits="userSpaceOnUse" x="368" y="938" width="106" height="136"><feGaussianBlur stdDeviation="8"/></filter><filter id="f109" filterUnits="userSpaceOnUse" x="461" y="1040" width="82" height="70"><feGaussianBlur stdDeviation="8"/></filter><filter id="f110" filterUnits="userSpaceOnUse" x="538" y="1049" width="127" height="91"><feGaussianBlur stdDeviation="8"/></filter><filter id="f111" filterUnits="userSpaceOnUse" x="577" y="1102" width="100" height="109"><feGaussianBlur stdDeviation="8"/></filter><filter id="f112" filterUnits="userSpaceOnUse" x="609" y="1044" width="252" height="300"><feGaussianBlur stdDeviation="7"/></filter><filter id="f113" filterUnits="userSpaceOnUse" x="772" y="1446" width="338" height="357"><feGaussianBlur stdDeviation="25"/></filter><filter id="f114" filterUnits="userSpaceOnUse" x="504" y="1492" width="173" height="560"><feGaussianBlur stdDeviation="8"/></filter><filter id="f115" filterUnits="userSpaceOnUse" x="571" y="1513" width="100" height="297"><feGaussianBlur stdDeviation="6"/></filter><filter id="f116" filterUnits="userSpaceOnUse" x="525" y="1605" width="67" height="176"><feGaussianBlur stdDeviation="6"/></filter><filter id="f117" filterUnits="userSpaceOnUse" x="906" y="945" width="128" height="179"><feGaussianBlur stdDeviation="12"/></filter><filter id="f118" filterUnits="userSpaceOnUse" x="866" y="979" width="119" height="108"><feGaussianBlur stdDeviation="10"/></filter><filter id="f119" filterUnits="userSpaceOnUse" x="897" y="1001" width="68" height="62"><feGaussianBlur stdDeviation="6"/></filter><filter id="f120" filterUnits="userSpaceOnUse" x="1146" y="1122" width="260" height="172"><feGaussianBlur stdDeviation="12"/></filter><filter id="f121" filterUnits="userSpaceOnUse" x="1063" y="1202" width="223" height="205"><feGaussianBlur stdDeviation="15"/></filter><filter id="f122" filterUnits="userSpaceOnUse" x="910" y="912" width="245" height="245"><feGaussianBlur stdDeviation="18"/></filter><filter id="f123" filterUnits="userSpaceOnUse" x="756" y="1764" width="222" height="179"><feGaussianBlur stdDeviation="15"/></filter><filter id="f124" filterUnits="userSpaceOnUse" x="912" y="1728" width="218" height="231"><feGaussianBlur stdDeviation="20"/></filter><filter id="f125" filterUnits="userSpaceOnUse" x="571" y="1664" width="252" height="252"><feGaussianBlur stdDeviation="20"/></filter><filter id="f126" filterUnits="userSpaceOnUse" x="428" y="1700" width="179" height="358"><feGaussianBlur stdDeviation="15"/></filter><filter id="f127" filterUnits="userSpaceOnUse" x="515" y="1706" width="125" height="415"><feGaussianBlur stdDeviation="6"/></filter><filter id="f128" filterUnits="userSpaceOnUse" x="471" y="1798" width="388" height="452"><feGaussianBlur stdDeviation="25"/></filter><filter id="f129" filterUnits="userSpaceOnUse" x="643" y="1952" width="107" height="94"><feGaussianBlur stdDeviation="10"/></filter><filter id="f130" filterUnits="userSpaceOnUse" x="426" y="2111" width="397" height="316"><feGaussianBlur stdDeviation="20"/></filter><filter id="f131" filterUnits="userSpaceOnUse" x="501" y="2178" width="136" height="119"><feGaussianBlur stdDeviation="12"/></filter><filter id="f132" filterUnits="userSpaceOnUse" x="494" y="2261" width="107" height="90"><feGaussianBlur stdDeviation="10"/></filter><filter id="f133" filterUnits="userSpaceOnUse" x="537" y="2333" width="277" height="171"><feGaussianBlur stdDeviation="10"/></filter><filter id="f134" filterUnits="userSpaceOnUse" x="369" y="2024" width="263" height="502"><feGaussianBlur stdDeviation="12"/></filter><filter id="f135" filterUnits="userSpaceOnUse" x="886" y="2296" width="168" height="98"><feGaussianBlur stdDeviation="4"/></filter><filter id="f136" filterUnits="userSpaceOnUse" x="769" y="2424" width="72" height="47"><feGaussianBlur stdDeviation="3"/></filter><filter id="f137" filterUnits="userSpaceOnUse" x="420" y="1980" width="120" height="120"><feGaussianBlur stdDeviation="6"/></filter><filter id="f138" filterUnits="userSpaceOnUse" x="869" y="189" width="76" height="100"><feGaussianBlur stdDeviation="3"/></filter><filter id="f139" filterUnits="userSpaceOnUse" x="782" y="223" width="55" height="40"><feGaussianBlur stdDeviation="3"/></filter><filter id="f140" filterUnits="userSpaceOnUse" x="959" y="1714" width="127" height="122"><feGaussianBlur stdDeviation="8"/></filter><filter id="f141" filterUnits="userSpaceOnUse" x="593" y="177" width="94" height="46"><feGaussianBlur stdDeviation="2"/></filter></defs><rect x="0" y="0" width="2086" height="2586" fill="#e58268"/>
<path d="M661,993 1048,993 1145,1211 1145,1646 1017,1704 951,1694 879,1646 806,1501 821,1307 806,1211 709,1114Z" fill="#f7b597" filter="url(#f0)"/>
<path d="M516,1501 806,1501 879,1646 951,1694 1096,1719 1145,1791 1145,1985 467,1985 467,1743Z" fill="#f3f5f6" filter="url(#f1)"/>
<path d="M661,1767 782,1719 1048,1767 1096,1888 1000,2130 661,2759 274,2759 322,2275 516,1936Z" fill="#bedbeb" filter="url(#f2)"/>
<path d="M1288,1549 1356,1452 1452,1394 1598,1332 1646,1211 1743,1211 1743,1840 1162,1840 1138,1772 1211,1694Z" fill="#fddbc7" filter="url(#f3)"/>
<path d="M1017,1598 1162,1501 1307,1525 1332,1622 1235,1743 1162,1815 1017,1815Z" fill="#fcdecc" filter="url(#f4)"/>
<path d="M492,467 612,443 661,564 612,661 492,612Z" fill="#eb9072" filter="url(#f5)"/>
<path d="M564,322 661,288 806,283 879,322 854,380 709,371 588,380Z" fill="#dc6e58" filter="url(#f6)"/>
<path d="M516,782 612,748 782,758 806,879 661,903 492,864Z" fill="#f19e7d" filter="url(#f7)"/>
<path d="M506,879 612,869 685,927 661,975 540,951Z" fill="#f7b597" filter="url(#f8)"/>
<path d="M666,908 663,917 657,925 648,930 637,932 626,930 616,925 610,917 608,908 610,898 616,891 626,885 637,883 648,885 657,891 663,898Z" fill="#f9c5ab" filter="url(#f9)"/>
<path d="M1033,714 1031,722 1024,729 1013,734 1000,736 987,734 976,729 968,722 966,714 968,706 976,699 987,694 1000,692 1013,694 1024,699 1031,706Z" fill="#d6604d" filter="url(#f10)"/>
<path d="M429,264 467,237 516,230 545,206 564,199 571,211 545,240 535,274 516,317 487,322 458,308 424,293Z" fill="#c03539" filter="url(#f11)"/>
<path d="M516,254 545,235 550,274 559,308 535,322 511,303Z" fill="#c8433f" filter="url(#f12)"/>
<path d="M492,298 490,304 487,308 483,311 477,312 471,311 467,308 464,304 462,298 464,292 467,288 471,285 477,283 483,285 487,288 490,292Z" fill="#b61f2e" filter="url(#f13)"/>
<path d="M177,274 293,288 337,312 380,342 361,371 322,361 274,371 216,371 177,346Z" fill="#d6604d" filter="url(#f14)"/>
<path d="M167,303 206,310 240,317 279,312 274,329 235,337 201,332 167,327Z" fill="#fddbc7" filter="url(#f15)"/>
<path d="M690,390 758,371 854,385 917,409 922,448 879,467 806,487 767,516 709,506 685,448Z" fill="#f7b597" filter="url(#f16)"/>
<path d="M753,409 751,415 747,420 741,423 733,424 726,423 720,420 716,415 714,409 716,404 720,399 726,396 733,395 741,396 747,399 751,404Z" fill="#fddbc7" filter="url(#f17)"/>
<path d="M736,453 735,458 731,463 725,466 719,467 712,466 707,463 703,458 702,453 703,447 707,443 712,439 719,438 725,439 731,443 735,447Z" fill="#fddbc7" filter="url(#f18)"/>
<path d="M903,429 901,434 896,439 888,442 879,443 869,442 862,439 856,434 854,429 856,423 862,418 869,415 879,414 888,415 896,418 901,423Z" fill="#fce1d1" filter="url(#f19)"/>
<path d="M770,494 769,499 766,502 762,505 758,506 753,505 749,502 746,499 746,494 746,489 749,485 753,483 758,482 762,483 766,485 769,489Z" fill="#fddbc7" filter="url(#f20)"/>
<path d="M825,404 824,409 820,413 813,416 806,417 799,416 792,413 788,409 787,404 788,400 792,396 799,393 806,392 813,393 820,396 824,400Z" fill="#fbd0b9" filter="url(#f21)"/>
<path d="M806,380 805,385 802,389 797,391 792,392 786,391 781,389 778,385 777,380 778,376 781,372 786,369 792,368 797,369 802,372 805,376Z" fill="#dc6e58" filter="url(#f22)"/>
<path d="M741,482 740,486 737,489 733,491 729,492 724,491 720,489 717,486 717,482 717,478 720,475 724,473 729,472 733,473 737,475 740,478Z" fill="#d6604d" filter="url(#f23)"/>
<path d="M733,550 806,545 816,579 748,588Z" fill="#f5aa89" filter="url(#f24)"/>
<path d="M864,279 903,293 922,317 879,322Z" fill="#d2594a" filter="url(#f25)"/>
<path d="M392,356 419,350 440,374 440,410 431,455 416,499 392,544 362,568 338,590 314,590 338,559 374,523 395,476 398,425 392,386Z" fill="#fcdecc" filter="url(#f26)"/>
<path d="M402,409 396,454 396,456 398,458 400,459 402,459 404,457 405,455 411,410 411,410 414,368 414,366 412,364 410,363 408,364 406,365 405,367Z" fill="#f8f4f2" filter="url(#f27)"/>
<path d="M420,424 405,468 376,527 375,530 376,532 378,533 380,534 382,533 384,531 414,472 414,471 429,426 429,425 435,380 435,378 433,376 431,375 429,376 427,377 426,379Z" fill="#f8f4f2" filter="url(#f28)"/>
<path d="M429,457 429,458 429,459 430,460 431,460 432,459 433,458 436,440 436,439 435,438 434,438 433,438 432,438 432,439Z" fill="#e0ecf3" filter="url(#f29)"/>
<path d="M390,552 389,554 390,555 391,556 392,556 393,555 394,554 409,525 409,523 409,522 408,521 406,521 405,521 404,522Z" fill="#e0ecf3" filter="url(#f30)"/>
<path d="M505,338 523,338 538,374 547,392 529,419 499,455 470,485 449,494 440,479 464,452 494,416 514,386 508,362Z" fill="#fbe6da" filter="url(#f31)"/>
<path d="M504,421 477,454 477,454 459,478 458,481 459,484 460,486 463,487 466,486 468,485 486,461 513,428 513,428 534,395 535,392 534,389 532,387 530,386 527,387 525,389Z" fill="#e4eef4" filter="url(#f32)"/>
<path d="M564,335 587,320 588,320 605,308 608,305 609,301 608,298 605,295 601,294 597,296 579,307 555,322 554,323 533,344 531,348 531,352 533,355 536,357 540,357 544,355Z" fill="#fce1d1" filter="url(#f33)"/>
<path d="M588,314 588,313 589,312 588,311 588,310 586,310 585,310 567,321 566,322 566,323 566,324 567,325 568,325 570,325Z" fill="#e8f0f4" filter="url(#f34)"/>
<path d="M465,410 465,413 463,416 461,418 459,419 457,418 455,416 454,413 453,410 454,406 455,403 457,401 459,401 461,401 463,403 465,406Z" fill="#d6604d" filter="url(#f35)"/>
<path d="M498,249 497,252 495,255 492,257 489,257 486,257 483,255 481,252 480,249 481,246 483,244 486,242 489,242 492,242 495,244 497,246Z" fill="#f8f1ed" filter="url(#f36)"/>
<path d="M387,462 387,470 384,476 380,480 375,482 371,480 367,476 364,470 363,462 364,455 367,449 371,445 375,443 380,445 384,449 387,455Z" fill="#c43c3c" filter="url(#f37)"/>
<path d="M349,540 347,544 344,547 338,549 332,550 325,549 320,547 316,544 315,540 316,536 320,533 325,531 332,530 338,531 344,533 347,536Z" fill="#c8433f" filter="url(#f38)"/>
<path d="M296,633 285,682 269,713 267,725 271,737 280,745 292,748 304,744 312,735 329,701 331,695 343,642 344,639 351,577 349,564 341,554 330,550 317,552 308,559 303,571Z" fill="#fce1d1" filter="url(#f39)"/>
<path d="M309,635 297,686 283,714 282,720 284,725 288,729 294,730 299,728 303,724 317,695 318,692 330,639 331,638 338,580 337,574 334,570 328,568 323,569 318,572 316,577Z" fill="#e4eef4" filter="url(#f40)"/>
<path d="M433,733 429,758 418,778 401,792 380,796 360,792 343,778 331,758 327,733 331,709 343,689 360,675 380,671 401,675 418,689 429,709Z" fill="#cf5246" filter="url(#f41)"/>
<path d="M395,738 393,746 389,752 383,756 375,758 368,756 362,752 358,746 356,738 358,731 362,725 368,720 375,719 383,720 389,725 393,731Z" fill="#c43c3c" filter="url(#f42)"/>
<path d="M230,719 298,709 322,806 274,816Z" fill="#f7b597" filter="url(#f43)"/>
<path d="M277,811 325,936 325,936 359,1021 363,1026 369,1029 375,1028 380,1024 383,1019 382,1013 348,927 300,802 299,800 250,718 246,713 240,712 234,713 229,718 228,724 229,730Z" fill="#f8c0a4" filter="url(#f44)"/>
<path d="M292,835 311,869 322,879 337,883 351,880 362,869 366,855 362,840 343,806 342,806 313,757 302,747 288,743 273,747 263,758 259,773 263,787Z" fill="#fce1d1" filter="url(#f45)"/>
<path d="M1017,554 1075,545 1162,564 1186,612 1162,661 1065,661 1017,637Z" fill="#f6b090" filter="url(#f46)"/>
<path d="M1152,612 1150,622 1144,630 1135,635 1123,637 1112,635 1103,630 1097,622 1094,612 1097,603 1103,595 1112,590 1123,588 1135,590 1144,595 1150,603Z" fill="#f8c0a4" filter="url(#f47)"/>
<path d="M1017,661 1404,661 1394,806 1307,903 1017,903Z" fill="#df755d" filter="url(#f48)"/>
<path d="M1414,661 1501,685 1525,719 1477,758 1414,758Z" fill="#d96752" filter="url(#f49)"/>
<path d="M1356,782 1501,772 1573,806 1573,879 1452,903 1356,893Z" fill="#f19e7d" filter="url(#f50)"/>
<path d="M1559,850 1558,855 1555,860 1550,863 1544,864 1539,863 1534,860 1531,855 1530,850 1531,844 1534,839 1539,836 1544,835 1550,836 1555,839 1558,844Z" fill="#f7b597" filter="url(#f51)"/>
<path d="M1351,850 1350,857 1347,863 1342,867 1336,869 1331,867 1326,863 1323,857 1322,850 1323,842 1326,836 1331,832 1336,830 1342,832 1347,836 1350,842Z" fill="#f7b597" filter="url(#f52)"/>
<path d="M1269,806 1394,806 1399,995 1264,995Z" fill="#d96752" filter="url(#f53)"/>
<path d="M1365,961 1362,972 1351,981 1336,988 1317,990 1298,988 1283,981 1272,972 1269,961 1272,950 1283,940 1298,934 1317,932 1336,934 1351,940 1362,950Z" fill="#cf5246" filter="url(#f54)"/>
<path d="M1564,888 1562,894 1558,899 1552,902 1544,903 1537,902 1531,899 1527,894 1525,888 1527,883 1531,878 1537,875 1544,874 1552,875 1558,878 1562,883Z" fill="#dc6e58" filter="url(#f55)"/>
<path d="M1668,806 1667,811 1664,815 1660,817 1656,818 1651,817 1647,815 1645,811 1644,806 1645,801 1647,797 1651,795 1656,794 1660,795 1664,797 1667,801Z" fill="#dc6e58" filter="url(#f56)"/>
<path d="M1639,729 1638,732 1635,735 1631,738 1627,738 1622,738 1618,735 1616,732 1615,729 1616,725 1618,722 1622,720 1627,719 1631,720 1635,722 1638,725Z" fill="#dc6e58" filter="url(#f57)"/>
<path d="M1573,709 1743,758 1801,806 1791,903 1694,975 1573,903Z" fill="#f19e7d" filter="url(#f58)"/>
<path d="M1428,903 1694,903 1719,1048 1428,1048Z" fill="#f5aa89" filter="url(#f59)"/>
<path d="M1572,1020 1572,1021 1581,1052 1585,1057 1590,1060 1596,1060 1602,1056 1605,1051 1604,1044 1595,1013 1575,948 1572,942 1567,939 1560,940 1555,943 1552,948 1552,955Z" fill="#f9c5ab" filter="url(#f60)"/>
<path d="M1017,927 1259,927 1259,1048 1017,1048Z" fill="#eb9072" filter="url(#f61)"/>
<path d="M872,969 1259,969 1259,1162 1177,1211 1017,1186 872,1162Z" fill="#f7b597" filter="url(#f62)"/>
<path d="M1017,1211 1162,1220 1201,1307 1162,1380 1128,1501 1017,1525Z" fill="#f5aa89" filter="url(#f63)"/>
<path d="M969,1356 1128,1365 1123,1477 1017,1525 944,1501Z" fill="#f19e7d" filter="url(#f64)"/>
<path d="M1404,969 1670,969 1661,1138 1598,1138 1501,1094 1414,1114Z" fill="#f7b597" filter="url(#f65)"/>
<path d="M1177,1162 1259,1220 1380,1152 1414,1114 1501,1094 1598,1138 1612,1211 1573,1307 1540,1346 1404,1385 1332,1477 1307,1549 1278,1573 1235,1525 1143,1501 1138,1404 1177,1365 1225,1307 1249,1259Z" fill="#fbe6da" filter="url(#f66)"/>
<path d="M1457,1351 1455,1356 1449,1360 1439,1363 1428,1364 1417,1363 1408,1360 1401,1356 1399,1351 1401,1346 1408,1341 1417,1338 1428,1337 1439,1338 1449,1341 1455,1346Z" fill="#e0ecf3" filter="url(#f67)"/>
<path d="M1281,1452 1279,1460 1274,1466 1267,1470 1259,1472 1251,1470 1244,1466 1239,1460 1237,1452 1239,1445 1244,1439 1251,1435 1259,1433 1267,1435 1274,1439 1279,1445Z" fill="#e8f0f4" filter="url(#f68)"/>
<path d="M1302,1549 1301,1554 1298,1558 1294,1560 1288,1561 1282,1560 1278,1558 1275,1554 1273,1549 1275,1545 1278,1541 1282,1538 1288,1537 1294,1538 1298,1541 1301,1545Z" fill="#e4eef4" filter="url(#f69)"/>
<path d="M1407,1235 1406,1239 1403,1243 1399,1246 1394,1247 1390,1246 1386,1243 1383,1239 1382,1235 1383,1230 1386,1226 1390,1224 1394,1223 1399,1224 1403,1226 1406,1230Z" fill="#eff3f6" filter="url(#f70)"/>
<path d="M1288,1099 1286,1112 1282,1123 1276,1131 1269,1133 1261,1131 1255,1123 1251,1112 1249,1099 1251,1086 1255,1075 1261,1068 1269,1065 1276,1068 1282,1075 1286,1086Z" fill="#ee9777" filter="url(#f71)"/>
<path d="M1307,1056 1404,1056 1404,1211 1317,1211Z" fill="#f8c0a4" filter="url(#f72)"/>
<path d="M1390,1177 1387,1188 1380,1197 1369,1203 1356,1206 1343,1203 1332,1197 1324,1188 1322,1177 1324,1166 1332,1156 1343,1150 1356,1148 1369,1150 1380,1156 1387,1166Z" fill="#fddbc7" filter="url(#f73)"/>
<path d="M1634,1089 1634,1089 1629,1200 1630,1206 1635,1211 1641,1213 1647,1212 1651,1207 1653,1201 1658,1090 1663,993 1662,987 1657,983 1651,981 1645,982 1641,986 1639,992Z" fill="#ee9777" filter="url(#f74)"/>
<path d="M1573,1211 1636,1211 1622,1307 1559,1327Z" fill="#f8c0a4" filter="url(#f75)"/>
<path d="M1428,1375 1540,1351 1583,1327 1578,1356 1501,1385 1443,1399Z" fill="#fcd6c0" filter="url(#f76)"/>
<path d="M1017,1622 1138,1525 1283,1549 1288,1598 1211,1694 1162,1743 1065,1646Z" fill="#fcdecc" filter="url(#f77)"/>
<path d="M1017,1622 1065,1646 1162,1719 1152,1767 1065,1782 1002,1719Z" fill="#fcd6c0" filter="url(#f78)"/>
<path d="M1143,1728 1142,1734 1139,1739 1134,1742 1128,1743 1123,1742 1118,1739 1115,1734 1114,1728 1115,1723 1118,1718 1123,1715 1128,1714 1134,1715 1139,1718 1142,1723Z" fill="#f8bb9e" filter="url(#f79)"/>
<path d="M1073,1728 1072,1732 1070,1735 1067,1737 1063,1738 1059,1737 1056,1735 1054,1732 1053,1728 1054,1725 1056,1721 1059,1719 1063,1719 1067,1719 1070,1721 1072,1725Z" fill="#f8f1ed" filter="url(#f80)"/>
<path d="M513,770 662,733 783,762 783,883 723,963 581,983 501,862Z" fill="#f19e7d" filter="url(#f81)"/>
<path d="M573,850 682,842 723,915 682,971 594,971Z" fill="#f7b597" filter="url(#f82)"/>
<path d="M743,915 904,911 965,983 944,1084 763,1100 650,1100 642,987Z" fill="#f4a582" filter="url(#f83)"/>
<path d="M904,915 1126,923 1126,1125 944,1125Z" fill="#f6b090" filter="url(#f84)"/>
<path d="M709,1114 903,1114 903,1259 758,1259Z" fill="#f8c0a4" filter="url(#f85)"/>
<path d="M869,1259 1024,1259 1048,1452 903,1404Z" fill="#f4a582" filter="url(#f86)"/>
<path d="M385,1017 516,1002 637,1065 719,1138 821,1211 825,1307 806,1404 796,1501 758,1646 661,1743 637,1857 554,1857 564,1694 579,1549 593,1404 603,1225 516,1162 438,1114 395,1056Z" fill="#f7f7f7" filter="url(#f87)"/>
<path d="M419,1017 487,1012 564,1046 632,1080 661,1114 709,1152 782,1201 816,1230 801,1307 782,1380 758,1452 738,1525 690,1544 661,1622 627,1694 622,1791 603,1857 579,1857 588,1743 593,1646 612,1573 632,1501 632,1452 656,1414 661,1332 646,1259 622,1211 579,1196 516,1157 458,1114 429,1061Z" fill="#82bbd9" filter="url(#f88)"/>
<path d="M632,1162 709,1157 782,1206 813,1235 799,1307 671,1307 651,1235Z" fill="#5ba2cb" filter="url(#f89)"/>
<path d="M627,1235 661,1259 680,1380 656,1438 632,1501 612,1501 622,1404 627,1307Z" fill="#c4dfec" filter="url(#f90)"/>
<path d="M680,1549 748,1520 772,1549 758,1622 709,1656 661,1646 656,1598Z" fill="#b8d8e9" filter="url(#f91)"/>
<path d="M666,1288 782,1269 787,1307 767,1394 748,1477 709,1525 675,1549 642,1612 617,1661 622,1743 603,1791 593,1743 598,1646 622,1573 642,1501 656,1428 680,1380 671,1327Z" fill="#3c8abe" filter="url(#f92)"/>
<path d="M738,1244 736,1254 730,1262 720,1267 709,1269 698,1267 689,1262 682,1254 680,1244 682,1235 689,1227 698,1222 709,1220 720,1222 730,1227 736,1235Z" fill="#82bbd9" filter="url(#f93)"/>
<path d="M709,1399 708,1409 704,1418 699,1424 692,1426 686,1424 680,1418 677,1409 675,1399 677,1389 680,1380 686,1375 692,1373 699,1375 704,1380 708,1389Z" fill="#16508e" filter="url(#f94)"/>
<path d="M670,1528 667,1541 661,1552 654,1559 647,1561 641,1557 637,1548 636,1536 637,1522 641,1509 646,1498 653,1491 660,1489 666,1493 670,1502 671,1514Z" fill="#16508e" filter="url(#f95)"/>
<path d="M626,1632 625,1643 622,1652 618,1658 612,1661 607,1658 603,1652 600,1643 599,1632 600,1620 603,1611 607,1605 612,1602 618,1605 622,1611 625,1620Z" fill="#16508e" filter="url(#f96)"/>
<path d="M557,1095 551,1101 540,1103 525,1102 509,1098 494,1091 482,1082 475,1073 475,1065 480,1059 491,1057 506,1057 522,1062 537,1069 549,1078 556,1087Z" fill="#539dc8" filter="url(#f97)"/>
<path d="M622,1126 617,1131 607,1133 595,1131 583,1126 573,1118 566,1109 562,1100 564,1092 570,1087 579,1085 591,1087 603,1092 613,1100 621,1109 624,1118Z" fill="#539dc8" filter="url(#f98)"/>
<path d="M503,1163 561,1196 564,1197 567,1196 569,1194 570,1191 569,1188 567,1186 509,1152 509,1152 441,1116 438,1115 435,1116 433,1118 432,1121 433,1124 435,1126Z" fill="#f4a582" filter="url(#f99)"/>
<path d="M608,1355 593,1499 595,1509 601,1517 611,1520 620,1519 628,1512 632,1503 646,1358 646,1355 642,1234 639,1224 631,1218 621,1215 612,1218 605,1226 603,1236Z" fill="#f8f4f2" filter="url(#f100)"/>
<path d="M721,1564 721,1566 719,1568 717,1569 714,1570 711,1569 709,1568 707,1566 707,1564 707,1562 709,1560 711,1558 714,1558 717,1558 719,1560 721,1562Z" fill="#fce1d1" filter="url(#f101)"/>
<path d="M383,896 384,899 426,965 428,968 470,1016 480,1023 539,1047 598,1076 599,1077 644,1098 657,1100 669,1095 677,1085 680,1072 675,1060 665,1051 620,1031 561,1001 559,1000 505,978 468,936 428,874 399,809 391,799 378,795 365,797 355,805 350,817 353,830Z" fill="#f8bb9e" filter="url(#f102)"/>
<path d="M293,830 296,857 298,863 334,922 352,960 352,962 376,1001 377,1002 403,1036 417,1071 419,1073 443,1106 446,1110 476,1130 480,1133 515,1141 557,1161 585,1189 594,1193 603,1190 608,1181 623,1076 621,1068 615,1062 556,1033 548,1031 520,1034 498,1030 486,1008 484,1005 458,979 411,908 411,908 391,879 373,839 369,833 342,812 331,810 304,816 296,821Z" fill="#f7f7f7" filter="url(#f103)"/>
<path d="M293,889 322,948 323,949 356,1003 382,1047 400,1086 401,1087 431,1129 433,1131 487,1161 487,1161 546,1191 591,1220 594,1221 597,1221 599,1219 600,1216 600,1213 598,1210 553,1180 552,1180 492,1150 440,1121 411,1080 393,1042 393,1041 366,997 366,997 333,943 303,883 303,882 270,834 268,832 264,832 262,833 260,835 259,838 260,841Z" fill="#f9c5ab" filter="url(#f104)"/>
<path d="M519,1157 521,1157 523,1155 524,1153 524,1151 523,1149 520,1148 490,1142 488,1142 486,1143 485,1146 485,1148 487,1150 489,1151Z" fill="#e8896d" filter="url(#f105)"/>
<path d="M307,829 334,823 361,844 379,886 400,916 424,952 448,988 475,1015 490,1042 520,1048 549,1045 579,1060 609,1075 657,1086 669,1116 675,1149 663,1191 633,1209 594,1179 564,1149 520,1128 484,1119 454,1098 430,1066 415,1030 388,994 364,955 346,916 328,886 310,856Z" fill="#98c8e0" filter="url(#f106)"/>
<path d="M355,887 364,929 365,932 368,933 371,934 374,932 375,930 376,926 367,885 367,884 358,848 356,846 353,844 350,844 348,846 346,848 346,851Z" fill="#63a7ce" filter="url(#f107)"/>
<path d="M394,964 424,976 448,1030 430,1048 412,1024Z" fill="#63a7ce" filter="url(#f108)"/>
<path d="M517,1075 515,1078 512,1081 507,1083 502,1084 496,1083 491,1081 488,1078 487,1075 488,1071 491,1068 496,1066 502,1066 507,1066 512,1068 515,1071Z" fill="#539dc8" filter="url(#f109)"/>
<path d="M564,1075 624,1086 639,1113 594,1104Z" fill="#63a7ce" filter="url(#f110)"/>
<path d="M603,1134 648,1128 651,1158 633,1185 609,1173Z" fill="#63a7ce" filter="url(#f111)"/>
<path d="M690,1114 742,1152 793,1193 821,1221 826,1263 817,1314 818,1317 819,1320 822,1321 826,1321 828,1319 830,1316 838,1264 838,1262 833,1217 831,1214 802,1184 801,1184 750,1142 749,1142 697,1104 697,1104 642,1068 639,1067 636,1067 633,1069 632,1072 633,1076 635,1078Z" fill="#fae9df" filter="url(#f112)"/>
<path d="M849,1523 1033,1523 1015,1726 941,1707 867,1634Z" fill="#facbb2" filter="url(#f113)"/>
<path d="M585,1667 585,1669 578,1777 557,1848 556,1851 545,1925 530,1998 531,2010 538,2020 549,2026 561,2025 572,2018 577,2007 592,1933 592,1932 603,1860 625,1788 626,1783 633,1673 651,1545 650,1533 642,1523 631,1518 619,1519 609,1527 604,1538Z" fill="#82bbd9" filter="url(#f114)"/>
<path d="M606,1612 595,1667 594,1673 601,1725 591,1770 591,1779 596,1786 603,1790 612,1790 619,1785 623,1778 634,1730 635,1724 628,1671 638,1619 638,1618 651,1552 651,1544 646,1536 638,1533 629,1533 622,1538 619,1546Z" fill="#3581ba" filter="url(#f115)"/>
<path d="M554,1707 545,1750 545,1755 548,1759 552,1761 557,1760 561,1758 563,1754 572,1709 572,1707 568,1633 567,1629 563,1626 559,1625 554,1626 551,1630 550,1634Z" fill="#fae9df" filter="url(#f116)"/>
<path d="M944,983 989,1002 996,1057 966,1086 944,1064Z" fill="#fbe6da" filter="url(#f117)"/>
<path d="M954,1033 951,1041 945,1049 936,1053 926,1055 915,1053 906,1049 900,1041 898,1033 900,1025 906,1017 915,1013 926,1011 936,1013 945,1017 951,1025Z" fill="#f8f1ed" filter="url(#f118)"/>
<path d="M945,1032 944,1036 941,1040 937,1042 931,1043 926,1042 922,1040 918,1036 917,1032 918,1028 922,1024 926,1022 931,1021 937,1022 941,1024 944,1028Z" fill="#d5e7f1" filter="url(#f119)"/>
<path d="M1184,1175 1239,1160 1368,1168 1368,1219 1276,1234 1250,1256 1202,1234Z" fill="#fcdecc" filter="url(#f120)"/>
<path d="M1129,1249 1239,1249 1221,1322 1166,1359 1110,1341Z" fill="#f9c5ab" filter="url(#f121)"/>
<path d="M966,976 1092,968 1099,1086 1000,1101Z" fill="#f9c5ab" filter="url(#f122)"/>
<path d="M931,1854 926,1870 912,1884 892,1893 867,1896 843,1893 822,1884 808,1870 803,1854 808,1837 822,1823 843,1814 867,1811 892,1814 912,1823 926,1837Z" fill="#abd2e5" filter="url(#f123)"/>
<path d="M974,1790 1068,1790 1059,1896 974,1896Z" fill="#dceaf2" filter="url(#f124)"/>
<path d="M633,1726 761,1726 739,1854 654,1854Z" fill="#ecf2f5" filter="url(#f125)"/>
<path d="M484,1747 560,1747 548,2003 475,2011Z" fill="#e4eef4" filter="url(#f126)"/>
<path d="M586,1786 570,1828 569,1830 556,1915 539,2000 539,2002 535,2087 536,2094 541,2099 547,2101 553,2099 558,2095 560,2089 564,2004 581,1920 581,1919 594,1836 611,1794 611,1792 620,1741 619,1734 615,1729 609,1726 603,1726 597,1730 595,1736Z" fill="#72b1d3" filter="url(#f127)"/>
<path d="M569,1875 782,1875 782,2045 761,2173 548,2173Z" fill="#a5cfe3" filter="url(#f128)"/>
<path d="M718,1998 716,2004 712,2009 705,2012 697,2013 689,2012 682,2009 677,2004 675,1998 677,1993 682,1988 689,1985 697,1984 705,1985 712,1988 716,1993Z" fill="#63a7ce" filter="url(#f129)"/>
<path d="M505,2173 761,2173 739,2259 675,2365 526,2365 488,2280Z" fill="#5ba2cb" filter="url(#f130)"/>
<path d="M599,2237 596,2245 590,2252 580,2257 569,2259 557,2257 548,2252 541,2245 539,2237 541,2229 548,2222 557,2218 569,2216 580,2218 590,2222 596,2229Z" fill="#3c8abe" filter="url(#f131)"/>
<path d="M569,2305 567,2310 563,2314 556,2317 548,2318 539,2317 532,2314 528,2310 526,2305 528,2301 532,2296 539,2294 548,2293 556,2294 563,2296 567,2301Z" fill="#3c8abe" filter="url(#f132)"/>
<path d="M569,2365 675,2365 782,2450 675,2472 569,2429Z" fill="#72b1d3" filter="url(#f133)"/>
<path d="M407,2257 408,2264 437,2392 447,2407 554,2484 566,2489 579,2486 590,2478 594,2466 592,2453 584,2442 485,2371 458,2256 466,2089 464,2076 455,2067 442,2062 429,2065 419,2074 415,2087Z" fill="#abd2e5" filter="url(#f134)"/>
<path d="M900,2310 1040,2310 1040,2380 900,2380Z" fill="#98c8e0" filter="url(#f135)"/>
<path d="M780,2435 830,2435 830,2460 780,2460Z" fill="#92c5de" filter="url(#f136)"/>
<path d="M440,2000 520,2000 520,2080 440,2080Z" fill="#e4eef4" filter="url(#f137)"/>
<path d="M880,200 934,200 934,278 880,278Z" fill="#d6604d" filter="url(#f138)"/>
<path d="M793,234 826,234 826,252 793,252Z" fill="#d6604d" filter="url(#f139)"/>
<path d="M985,1740 1050,1740 1060,1800 1000,1810Z" fill="#f8f1ed" filter="url(#f140)"/>
<path d="M601,185 679,185 679,215 637,215 619,203 601,203Z" fill="#cf5246" filter="url(#f141)"/>
</g>
<path d="M177.5,281.4 L188.0,289.2 L200.0,295.8 L214.9,306.3 L225.4,316.8 L238.9,316.8 L250.9,310.8 L265.9,304.8 L277.8,300.3 L289.8,291.3 L301.8,291.3 L312.3,292.8 L325.8,297.3 L337.7,301.8 L349.7,309.3 L358.7,316.8 L364.7,322.8 L370.7,328.8 L376.7,336.2 L379.7,342.2 L382.7,346.7 L386.3,343.7 L385.1,333.2 L379.7,324.3 L385.7,322.8 L397.6,313.8 L409.6,298.8 L423.1,294.3 L424.6,283.8 L421.6,271.8 L427.6,258.4 L436.6,249.4 L450.1,240.4 L460.6,243.4 L469.5,234.4 L478.5,232.9 L490.5,235.9 L499.5,231.4 L514.5,223.9 L529.4,217.9 L539.9,211.9 L541.4,202.9 L551.9,196.4 L562.4,195.5 L571.4,200.0 L575.0,208.9 L565.4,214.9 L556.4,219.4 L545.9,223.9 L547.4,232.9 L551.9,240.4 L556.4,244.9 L562.4,246.4 L571.4,241.9 L583.4,235.9 L595.3,231.4 L602.8,229.9 L604.3,223.9 L601.3,214.9 L605.8,205.9 L611.8,203.5 L617.8,208.9 L619.3,219.4 L620.8,226.9 L631.3,226.9 L643.3,228.4 L655.3,232.9 L664.2,238.9 L670.2,249.4 L674.7,258.4 L690.0,260.8 L682.0,259.9 L697.0,259.3 L723.9,262.9 L750.9,267.4 L759.9,271.8 L774.8,274.8 L783.8,273.3 L789.8,267.4 L801.8,262.9 L810.8,259.9 L825.8,256.9 L837.7,253.9 L849.7,252.4 L867.7,251.5 L884.2,253.3 L879.7,256.9 L861.7,258.4 L849.7,259.9 L846.7,265.9 L855.7,267.4 L861.7,273.3 L867.7,280.8 L873.7,276.3 L879.7,280.8 L885.7,285.3 L893.2,280.8 L900.6,288.3 L909.6,291.3 L918.6,297.3 L923.1,304.8 L924.6,313.8 L926.1,322.8 L933.6,324.3 L942.6,325.2 L951.6,331.8 L957.6,333.2 L969.5,339.2 L981.5,348.2 L993.5,358.7 L1002.5,370.7 L1020.5,385.7 L1038.4,403.6 L1044.4,411.1 L1059.4,412.6 L1083.4,416.2 L1113.3,414.1 L1149.3,418.6 L1164.2,424.6 L1179.2,427.6 L1190.0,430.0 L1182.0,429.4 L1202.9,444.4 L1223.9,460.9 L1229.9,464.8 L1237.4,469.9 L1243.4,480.3 L1246.4,493.8 L1249.4,508.8 L1253.9,523.8 L1258.4,538.8 L1265.9,538.8 L1273.3,550.7 L1283.8,555.2 L1286.2,565.7 L1282.3,580.7 L1279.3,589.7 L1281.4,600.2 L1292.8,601.1 L1298.8,609.1 L1310.8,615.1 L1322.8,619.6 L1334.7,620.5 L1336.2,628.6 L1349.7,633.1 L1355.7,631.0 L1370.7,632.2 L1379.7,637.0 L1391.7,642.1 L1406.6,645.1 L1418.6,649.6 L1430.6,654.1 L1438.1,666.1 L1442.6,660.1 L1451.6,655.6 L1459.1,664.6 L1463.5,675.0 L1484.5,682.5 L1508.5,691.5 L1517.5,694.5 L1529.4,702.0 L1541.4,702.9 L1554.9,704.1 L1559.4,708.0 L1572.9,709.5 L1589.4,706.5 L1604.3,705.0 L1619.3,708.0 L1631.3,714.0 L1646.3,721.5 L1655.3,727.5 L1655.3,727.4 L1669.8,739.5 L1684.4,754.0 L1694.0,762.5 L1703.7,769.8 L1711.0,775.8 L1725.5,780.6 L1737.6,782.6 L1749.7,781.9 L1761.8,783.1 L1771.5,787.9 L1777.5,797.6 L1781.1,812.1 L1783.5,826.6 L1786.0,843.5 L1787.2,862.9 L1787.2,879.8 L1786.0,891.9 L1782.3,901.6 L1778.7,911.3 L1766.6,928.2 L1754.5,942.7 L1747.3,951.2 L1737.6,958.5 L1723.1,974.2 L1708.5,991.1 L1702.5,1003.2 L1696.5,1015.3 L1691.6,1022.6 L1672.3,1041.9 L1652.9,1061.3 L1650.5,1075.8 L1651.7,1090.1 L1652.0,1084.8 L1649.6,1094.5 L1648.4,1106.6 L1650.8,1121.1 L1653.7,1135.6 L1655.2,1144.1 L1652.0,1155.0 L1648.4,1169.5 L1646.0,1181.6 L1643.5,1193.7 L1644.8,1203.4 L1638.7,1210.6 L1631.5,1217.9 L1627.8,1226.4 L1626.6,1237.3 L1626.6,1249.4 L1626.6,1261.5 L1625.4,1271.1 L1612.1,1290.5 L1597.6,1307.4 L1590.3,1314.7 L1585.5,1324.4 L1581.9,1334.0 L1583.5,1346.1 L1575.8,1353.4 L1566.1,1358.2 L1556.5,1364.3 L1551.6,1370.3 L1550.4,1380.0 L1522.6,1382.4 L1493.5,1382.4 L1483.9,1383.6 L1474.2,1388.5 L1466.9,1384.8 L1457.3,1387.3 L1454.8,1393.3 L1450.0,1399.4 L1442.7,1403.0 L1435.5,1406.6 L1434.3,1413.9 L1425.8,1412.7 L1413.7,1415.1 L1401.6,1418.7 L1391.9,1423.5 L1379.8,1432.0 L1367.7,1440.5 L1355.6,1450.2 L1349.6,1457.4 L1343.5,1464.7 L1338.7,1471.9 L1331.5,1479.2 L1329.0,1491.3 L1331.5,1501.0 L1327.8,1510.6 L1326.6,1520.1 L1331.4,1533.2 L1329.0,1552.6 L1322.9,1567.1 L1310.8,1576.8 L1298.7,1585.2 L1289.0,1592.5 L1281.8,1605.8 L1276.9,1617.9 L1272.1,1630.0 L1262.4,1644.5 L1250.3,1659.0 L1235.8,1671.1 L1223.7,1678.4 L1214.0,1685.6 L1206.8,1692.9 L1201.9,1702.6 L1197.1,1714.7 L1187.4,1726.8 L1177.7,1734.0 L1168.1,1741.3 L1163.2,1751.0 L1156.0,1760.6 L1151.1,1765.5 L1143.9,1770.3 L1129.4,1777.6 L1117.3,1782.4 L1085.8,1781.2 L1056.8,1775.2 L1042.3,1767.9 L1032.6,1766.7 L1020.5,1765.5 L1012.0,1764.3 L1018.1,1774.0 L1030.2,1783.6 L1037.4,1789.7 L1043.5,1796.9 L1042.3,1803.0 L1036.2,1809.0 L1035.0,1816.3 L1038.6,1823.5 L1047.1,1828.4 L1056.8,1829.6 L1058.0,1838.1 L1059.2,1846.5 L1051.9,1857.4 L1044.7,1867.1 L1037.4,1876.8 L1030.2,1884.0 L1027.7,1891.3 L1013.2,1897.3 L996.3,1903.4 L979.4,1908.2 L960.0,1911.9 L942.4,1914.4 L918.2,1917.3 L894.0,1918.5 L878.3,1916.0 L867.4,1911.2 L868.6,1919.7 L872.3,1929.4 L875.9,1934.2 L874.7,1945.1 L868.6,1946.3 L867.4,1953.5 L863.8,1960.8 L865.0,1968.1 L871.0,1972.9 L869.8,1980.2 L857.7,1985.0 L843.2,1989.4 L828.7,1989.8 L816.6,1989.8 L809.4,1986.2 L797.3,1982.6 L785.2,1979.0 L779.1,1975.3 L773.1,1982.6 L774.3,1995.9 L777.9,2001.9 L777.4,2011.6 L776.7,2018.9 L782.7,2024.9 L793.6,2027.3 L794.8,2032.2 L806.9,2032.9 L809.4,2024.9 L815.4,2020.8 L821.5,2022.5 L825.8,2031.0 L825.1,2043.1 L819.0,2047.9 L809.4,2048.4 L805.0,2043.1 L802.6,2038.2 L790.0,2037.0 L780.3,2041.9 L787.6,2046.7 L802.1,2050.3 L794.8,2054.0 L785.2,2056.4 L777.9,2062.4 L770.6,2070.9 L768.2,2079.4 L771.9,2089.0 L770.6,2101.1 L763.4,2104.8 L757.3,2109.6 L761.0,2116.9 L753.7,2119.3 L741.6,2118.1 L729.5,2122.9 L715.0,2126.5 L705.3,2137.4 L700.5,2144.7 L693.2,2156.8 L694.4,2168.9 L702.9,2176.1 L712.6,2183.4 L724.7,2187.0 L741.6,2188.2 L751.3,2191.9 L756.1,2200.1 L752.0,2192.3 L755.6,2200.8 L753.2,2212.9 L748.4,2220.2 L738.7,2227.4 L724.2,2234.7 L709.7,2241.9 L697.6,2251.6 L691.5,2258.9 L690.3,2271.0 L686.7,2281.9 L675.8,2287.9 L663.7,2291.5 L651.6,2296.4 L644.4,2302.4 L640.7,2310.9 L639.5,2319.4 L641.9,2329.0 L646.8,2338.7 L651.6,2348.4 L658.9,2358.1 L666.1,2364.1 L660.1,2377.4 L668.5,2384.7 L663.7,2391.9 L662.5,2396.8 L674.6,2396.8 L678.2,2406.5 L690.3,2413.7 L702.4,2423.4 L719.4,2431.9 L738.7,2439.1 L755.6,2442.7 L773.8,2442.7 L770.2,2451.2 L758.1,2452.4 L743.5,2450.0 L726.6,2452.4 L714.5,2457.3 L731.5,2460.9 L714.5,2465.7 L690.3,2464.5 L675.8,2466.9 L678.2,2475.4 L709.7,2483.9 L680.6,2485.1 L666.1,2473.0 L641.9,2473.0 L617.7,2468.1 L593.5,2460.9 L569.4,2453.6 L545.2,2441.5 L525.8,2431.9 L501.6,2424.6 L491.9,2412.5 L482.3,2402.8 L470.2,2393.1 L453.2,2381.0 L454.4,2376.2 L448.4,2362.9 L439.9,2348.4 L433.9,2336.3 L436.3,2324.2 L429.0,2309.7 L427.8,2295.2 L424.2,2280.6 L423.0,2266.1 L421.8,2251.6 L423.0,2237.1 L425.4,2222.6 L433.9,2210.5 L448.4,2205.6 L460.5,2198.4 L465.3,2191.1 L460.5,2183.9 L448.4,2181.5 L431.5,2182.7 L421.8,2177.8 L423.0,2170.6 L436.3,2165.7 L441.1,2157.3 L443.5,2150.0 L443.4,2149.9 L462.3,2152.6 L476.8,2157.4 L484.0,2167.1 L493.7,2157.4 L501.0,2142.9 L496.1,2128.4 L501.0,2113.9 L505.8,2099.4 L503.4,2084.8 L510.6,2077.6 L509.4,2063.1 L515.5,2051.0 L517.9,2036.5 L520.3,2021.9 L525.2,2007.4 L513.1,2000.2 L510.6,2007.4 L491.3,2008.6 L484.0,2002.6 L479.2,1985.6 L481.6,1973.5 L486.5,1959.0 L488.9,1949.4 L498.5,1945.7 L504.6,1930.0 L503.4,1920.3 L498.5,1908.2 L493.7,1896.1 L496.1,1884.0 L490.1,1871.9 L488.9,1859.8 L496.1,1858.6 L505.8,1852.6 L508.2,1840.5 L515.5,1828.4 L520.3,1813.9 L525.2,1804.2 L532.4,1792.1 L539.7,1780.0 L537.3,1785.8 L542.1,1771.3 L545.7,1756.8 L551.8,1744.7 L557.8,1735.0 L554.2,1722.9 L561.5,1710.8 L563.9,1696.3 L560.2,1679.4 L557.8,1662.4 L555.4,1645.5 L554.7,1628.5 L565.1,1621.3 L568.7,1609.2 L566.3,1592.3 L561.5,1581.4 L571.1,1568.1 L574.8,1548.7 L580.8,1536.6 L579.6,1522.1 L586.9,1510.0 L589.3,1495.5 L588.1,1478.5 L591.7,1466.5 L596.5,1461.6 L595.3,1447.1 L592.9,1432.6 L594.1,1415.6 L596.5,1403.5 L590.5,1398.7 L592.9,1384.2 L600.2,1381.8 L602.6,1369.7 L603.8,1360.0 L602.3,1365.8 L605.9,1351.3 L609.5,1331.9 L606.6,1312.6 L605.9,1290.8 L604.7,1266.6 L602.3,1247.3 L600.3,1226.7 L592.6,1220.6 L582.9,1212.2 L566.0,1203.7 L563.5,1192.8 L556.3,1188.0 L541.8,1181.9 L529.7,1171.0 L517.6,1167.4 L500.6,1159.0 L486.1,1152.9 L474.0,1144.4 L461.9,1138.4 L449.8,1131.1 L437.7,1125.1 L430.5,1115.4 L418.4,1106.9 L408.7,1094.8 L401.5,1085.2 L400.2,1077.9 L397.8,1075.5 L403.9,1070.6 L403.9,1058.5 L396.6,1046.5 L389.4,1034.4 L383.3,1024.7 L370.0,1007.7 L355.5,988.4 L350.6,976.3 L347.6,965.8 L337.9,948.9 L331.9,931.9 L324.6,919.8 L319.8,902.9 L313.7,890.8 L306.5,878.7 L296.8,866.6 L289.5,852.1 L279.8,840.0 L270.2,832.7 L255.6,825.5 L241.1,818.2 L237.5,811.0 L242.3,807.3 L247.2,803.7 L246.0,794.0 L238.7,786.8 L237.5,778.3 L232.7,769.8 L232.7,757.7 L241.1,745.6 L253.2,733.5 L265.3,726.3 L272.6,721.5 L278.6,717.8 L279.8,709.4 L270.2,714.2 L267.7,704.5 L260.5,699.7 L252.0,693.6 L243.5,686.4 L252.0,682.7 L249.6,670.6 L249.6,656.1 L247.2,646.5 L258.1,642.8 L261.7,633.1 L260.5,624.7 L267.7,615.0 L272.6,607.7 L275.0,595.6 L273.8,584.8 L284.7,581.1 L296.8,576.3 L308.9,573.9 L316.1,567.8 L316.8,568.4 L313.8,562.4 L310.8,557.9 L316.8,553.4 L325.8,550.4 L321.3,544.4 L322.8,533.9 L328.8,529.4 L337.7,526.5 L349.7,525.0 L354.2,517.5 L358.7,508.5 L364.7,499.5 L370.7,492.0 L375.2,483.0 L369.2,478.5 L366.2,469.5 L367.7,457.6 L366.2,445.6 L364.7,433.6 L360.2,427.6 L364.7,424.6 L366.2,415.6 L363.2,406.6 L366.2,400.6 L364.7,391.7 L357.2,382.7 L352.7,376.7 L349.7,369.2 L343.7,364.7 L337.7,358.7 L331.8,349.7 L331.8,340.7 L327.3,331.8 L321.3,322.8 L313.8,316.8 L304.8,312.3 L295.8,312.3 L288.3,316.8 L282.3,325.8 L271.8,331.8 L262.9,336.2 L264.4,343.7 L271.8,351.2 L276.3,358.7 L268.8,364.7 L259.9,369.2 L247.9,369.2 L243.4,361.7 L234.4,355.7 L225.4,352.7 L222.4,343.7 L211.9,337.7 L200.0,334.7 L188.0,333.2 L177.5,334.1Z" fill="none" stroke="#000" stroke-width="2.2" stroke-linejoin="round"/>
<path d="M557.9,246.4 L559.4,256.9 L556.4,265.9 L547.4,273.3 L541.4,283.8 L544.4,291.3 L551.9,298.8 L554.9,306.3 L562.4,309.3 L571.4,306.3 L575.9,295.8 L576.8,285.3 L571.4,274.8 L563.9,265.9 L560.3,256.9 L560.9,247.3Z" fill="none" stroke="#000" stroke-width="2.2" stroke-linejoin="round"/>
<path d="M1238.2,1634.8 L1247.9,1631.2 L1257.6,1633.6 L1258.8,1642.1 L1247.9,1649.4 L1238.2,1659.0 L1226.1,1671.1 L1214.0,1677.2 L1209.2,1673.5 L1216.5,1666.3 L1228.5,1656.6 L1233.4,1646.9Z" fill="none" stroke="#000" stroke-width="2.2" stroke-linejoin="round"/>
<path d="M666.1,2365.3 L654.0,2362.9 L639.5,2361.7 L629.8,2364.8 L625.0,2369.7 L632.3,2369.0 L639.5,2375.0 L651.6,2371.4 L660.1,2376.9Z" fill="none" stroke="#000" stroke-width="2.2" stroke-linejoin="round"/>
<path d="M545.2,2391.9 L554.8,2385.9 L566.9,2381.0 L574.2,2382.3 L569.4,2389.5 L557.3,2394.4 L547.6,2395.6Z" fill="none" stroke="#000" stroke-width="2.2" stroke-linejoin="round"/>
<path d="M586.3,2383.5 L596.0,2382.3 L597.2,2391.9 L594.8,2404.0 L600.8,2411.3 L593.5,2413.7 L588.7,2408.9 L581.5,2410.1 L580.2,2399.2Z" fill="none" stroke="#000" stroke-width="2.2" stroke-linejoin="round"/>
<path d="M597.2,2394.4 L608.1,2400.4 L622.6,2398.0 L633.5,2399.2 L632.3,2404.0 L617.7,2407.7 L608.1,2411.3 L605.6,2418.5 L599.6,2413.7 L598.4,2404.0Z" fill="none" stroke="#000" stroke-width="2.2" stroke-linejoin="round"/>
<path d="M476.8,2011.0 L491.3,2011.0 L496.1,2019.5 L494.9,2034.0 L491.3,2046.1 L487.7,2063.1 L476.8,2064.3 L464.7,2061.9 L470.7,2048.5 L473.1,2034.0 L475.6,2021.9Z" fill="none" stroke="#000" stroke-width="2.2" stroke-linejoin="round"/>
<path d="M787.1,2447.6 L796.8,2444.7 L811.3,2444.0 L818.1,2445.2 L811.3,2448.8 L799.2,2451.2 L789.5,2451.9Z" fill="none" stroke="#000" stroke-width="2.2" stroke-linejoin="round"/>
<path d="M923.5,2334.6 L931.8,2331.5 L938.1,2333.5 L946.4,2334.6 L954.7,2332.5 L958.8,2329.4 L967.1,2331.5 L971.2,2333.5 L967.1,2338.7 L960.9,2343.9 L954.7,2348.1 L948.4,2351.2 L938.1,2353.2 L933.9,2357.4 L929.8,2360.5 L924.6,2361.5 L921.5,2358.4 L915.3,2356.4 L910.1,2352.2 L911.1,2348.1 L917.3,2348.1 L925.6,2350.1 L933.9,2346.0 L942.2,2341.8 L936.0,2339.8 L928.7,2338.7Z" fill="none" stroke="#000" stroke-width="2.2" stroke-linejoin="round"/>
<path d="M973.3,2335.6 L979.5,2331.5 L983.7,2329.4 L994.1,2330.4 L1000.3,2332.5 L1012.7,2332.5 L1018.9,2335.6 L1020.0,2341.8 L1014.8,2345.0 L1004.4,2348.1 L994.1,2351.2 L988.9,2354.3 L979.5,2356.4 L973.3,2360.5 L968.1,2366.7 L959.8,2361.5 L955.7,2356.4 L958.8,2351.2 L965.0,2348.1 L971.2,2343.9 L974.4,2340.8Z" fill="none" stroke="#000" stroke-width="2.2" stroke-linejoin="round"/>
<circle cx="689.5" cy="210.4" r="1.5" fill="none" stroke="#000" stroke-width="1.6"/>
<circle cx="741.3" cy="216.4" r="1.8" fill="none" stroke="#000" stroke-width="1.6"/>
<circle cx="792.2" cy="214.9" r="2.2" fill="none" stroke="#000" stroke-width="1.6"/>
<circle cx="714.9" cy="214.9" r="1.5" fill="none" stroke="#000" stroke-width="1.6"/>
<circle cx="719.4" cy="216.4" r="2.5" fill="none" stroke="#000" stroke-width="1.6"/>
<circle cx="723.9" cy="215.5" r="2.0" fill="none" stroke="#000" stroke-width="1.6"/>
<circle cx="767.4" cy="246.4" r="3" fill="none" stroke="#000" stroke-width="1.6"/>
<circle cx="907.0" cy="2321.1" r="1.8" fill="#000"/>
<circle cx="917.3" cy="2323.7" r="1.8" fill="#000"/>
<circle cx="931.3" cy="2324.2" r="1.8" fill="#000"/>
<circle cx="938.6" cy="2324.7" r="1.8" fill="#000"/>
<circle cx="922.5" cy="2330.4" r="1.8" fill="#000"/>
<circle cx="928.2" cy="2329.4" r="1.8" fill="#000"/>
<circle cx="918.9" cy="2338.2" r="1.8" fill="#000"/>
<circle cx="922.5" cy="2340.8" r="1.8" fill="#000"/>
<circle cx="904.4" cy="2343.9" r="1.8" fill="#000"/>
<circle cx="904.4" cy="2348.1" r="1.8" fill="#000"/>
<circle cx="997.7" cy="2354.8" r="1.8" fill="#000"/>
<circle cx="984.2" cy="2360.5" r="1.8" fill="#000"/>
<circle cx="975.9" cy="2366.9" r="1.8" fill="#000"/>
<circle cx="954.7" cy="2365.2" r="1.8" fill="#000"/>
<circle cx="959.8" cy="2346.0" r="1.8" fill="#000"/>
<path d="M356,339 361,354 351,363 347,373M550,230 535,240 516,262 511,281 500,304 516,302 523,322 528,342 530,358 545,375 583,374 603,378 632,407 661,403 690,402 699,414 687,429 685,453 690,477 702,499 685,516 702,533 709,550 712,571 724,574 738,586 758,581M758,581 765,588 770,579 801,564 811,552 835,540 835,530 811,525 806,506 806,492 796,477 787,470 806,477 825,482 847,489 854,479 879,472 903,462 925,455 927,441M954,332 932,351 925,366 937,375 917,385 908,397 900,412 927,441M927,441 945,437 946,460 957,467 960,492 954,511 957,545 971,559 990,571 1017,562M738,586 724,574 712,571 704,545 697,537 683,550 675,547 671,553 617,554 617,576 639,579 642,591 611,591 610,617 632,649 615,753M615,753 603,755 591,741 609,702 593,692 579,687 564,690 552,685 535,692 511,690 506,675 494,666 487,651 467,634 453,620 438,617 431,615M310,559 327,574 342,586 361,596 371,603 390,605 400,598 414,608 431,615M431,615 438,644 431,642 424,661 409,675 385,692 356,704 339,717 337,729 332,743 322,762 310,779 298,775 288,760 274,755 263,760 262,750 269,741 267,726M615,753 598,750 574,758 550,767 525,782 513,796 506,821 501,835 487,852 479,859 487,879 501,903 511,927 540,929 540,946 564,946 593,929 592,980M487,852 545,869 603,883 661,912 690,932 721,942M592,980 612,983 637,978 654,985 680,971 702,956 721,942 748,939 765,937 767,956 765,975 772,1000 782,1017M592,980 627,980 649,1017M721,942 748,927 782,915 799,912 825,881 850,879 864,893 879,905 893,908M893,908 898,932 896,975 917,980 946,985 949,1017M1044,411 1041,425 1037,437 1035,443 1020,447 1017,458 1014,467 1011,476 1017,488 1026,496 1038,502 1044,514 1050,526 1055,535 1059,546M1149,422 1142,431 1134,443 1133,455 1136,470 1143,482 1148,492 1143,505 1142,517 1136,529 1134,537M1014,558 1029,552 1044,546 1059,546 1074,549 1083,547 1080,534 1089,529 1104,528 1116,526 1122,532 1134,537 1149,534 1164,534 1179,537 1190,534M1119,532 1122,550 1137,556 1155,565 1167,574 1176,586M862,273 868,281 865,290 871,302 877,311 880,320 874,324 886,327 904,329 910,326M1228,467 1225,476 1215,491 1206,503 1200,515 1195,527 1188,534 1180,539 1170,534M1170,584 1177,593 1180,605 1191,623 1198,638 1203,647 1212,653 1224,648 1225,638 1234,626 1239,620 1248,611 1260,603 1281,600M1555,704 1556,710 1546,720 1532,727 1523,740 1517,752 1516,758 1514,778 1514,798 1513,810 1520,819 1519,834 1500,839 1484,838 1471,848 1455,860 1440,865M1573,709 1571,720 1574,732 1579,747 1575,761 1577,776 1585,785 1586,800 1589,819 1592,834 1602,840 1601,853 1598,860M1598,860 1594,863 1595,873 1598,880 1595,890 1583,897 1572,903 1561,911 1549,921 1537,926 1523,933 1513,926 1500,922 1488,931 1493,945 1486,960 1476,967 1464,969 1452,977 1440,972M1598,860 1609,859 1624,857 1634,860 1641,868 1648,874 1659,869M1704,775 1694,781 1689,793 1682,805 1680,815 1669,817 1665,824 1663,839 1659,848 1664,858 1659,869M1665,824 1672,829 1680,830 1692,822 1710,815 1711,819 1702,829 1704,835 1711,839 1723,838 1728,844 1734,836 1735,824 1741,825 1755,828 1779,829M1659,869 1670,871 1682,873 1696,863 1707,857 1716,860 1715,870 1706,877 1712,882 1718,890 1730,880 1742,873 1762,869 1779,865M1572,903 1580,909 1590,916 1592,928 1605,923 1609,914 1624,906 1636,899 1646,904 1658,909 1667,912 1672,919 1678,925 1684,917 1692,910 1701,914 1718,923 1730,922 1742,915 1755,910 1771,910 1779,911M1678,925 1687,933 1701,940 1713,948 1723,955 1730,961M1682,932 1684,943 1692,955 1688,969 1676,973 1680,985 1684,994 1696,1000 1706,996M1409,1080 1416,1090 1414,1095 1416,1109 1414,1121 1419,1118 1431,1111 1445,1102 1460,1093 1472,1089 1486,1091 1488,1102 1498,1107 1510,1103 1525,1109 1540,1116 1554,1119 1564,1126 1572,1133 1573,1139 1590,1137 1605,1140 1619,1147 1621,1153 1612,1163 1607,1177 1599,1182 1596,1194 1605,1203 1611,1212 1627,1225M1611,1212 1598,1212 1588,1215 1578,1225 1578,1237 1576,1245 1584,1249 1585,1261 1578,1274 1571,1286 1556,1289 1554,1305 1544,1315 1540,1332 1541,1339 1525,1345 1506,1351 1486,1352 1469,1357 1455,1362 1443,1365 1426,1369 1421,1374 1404,1374 1399,1365 1393,1358 1394,1341 1398,1332 1390,1327 1382,1327 1377,1312 1377,1303 1373,1290 1365,1281 1353,1282 1341,1286 1329,1286 1317,1287 1318,1295 1310,1287 1305,1281 1300,1281M1554,1305 1558,1320 1573,1323 1584,1324M1414,1121 1406,1111 1399,1104 1397,1114 1385,1119 1382,1128 1383,1143 1370,1150 1368,1162 1375,1177 1368,1191 1365,1196 1373,1206 1371,1218 1360,1223 1348,1230 1336,1228 1324,1226 1312,1229 1300,1235M1457,1362 1465,1369 1475,1369 1473,1376 1460,1380 1455,1387M1154,1480 1158,1490 1178,1492 1202,1498 1226,1503 1236,1505 1239,1496 1258,1488 1275,1484 1296,1491 1311,1485 1330,1481M1157,1493 1158,1511 1152,1521 1168,1520 1187,1522 1202,1525 1216,1531 1233,1537 1245,1545 1255,1555 1262,1562 1275,1565 1290,1566 1291,1571 1284,1577 1283,1588 1278,1592 1288,1592M1129,1480 1127,1492 1122,1502 1115,1509 1100,1516 1093,1526 1076,1531 1057,1532 1042,1531 1020,1527 994,1526 993,1521 1004,1511 1010,1492 1016,1480M1152,1521 1139,1526 1127,1533 1115,1540 1103,1550 1091,1557 1088,1562 1081,1570 1071,1579 1064,1589 1057,1599 1047,1608 1037,1614 1030,1623 1027,1625M1027,1625 1042,1619 1052,1619 1062,1628 1071,1637 1081,1649 1086,1652 1094,1645 1103,1654 1112,1659 1125,1664 1134,1671 1146,1681 1156,1688 1161,1697 1168,1703 1178,1706 1183,1699 1187,1693 1193,1689 1192,1698 1186,1703 1185,1710 1178,1712 1170,1720 1166,1727 1164,1741M1027,1625 1018,1635 1017,1649 1012,1664 1008,1678 1008,1693 1011,1707 1010,1718 1001,1721 999,1732 1000,1746 1006,1758 1012,1764M649,1017 656,1032 646,1041 649,1085 634,1107 639,1121 632,1133 637,1152 654,1157 642,1177 625,1189 629,1198 615,1203 617,1215 603,1225M629,1198 642,1215 646,1235 661,1257 656,1281 654,1295 663,1307 671,1332 678,1356 683,1377 702,1377 709,1382M709,1382 704,1419 680,1426 663,1436 658,1448 663,1460 656,1477 661,1494 668,1515 649,1523 642,1540 627,1564 617,1588 610,1598 612,1622 603,1634 598,1651 593,1665 603,1685 605,1704 610,1723 617,1728 615,1757 603,1777 596,1791 598,1815 596,1835 583,1844 574,1857M709,1382 721,1361 738,1356 741,1346 753,1353 789,1354 801,1377 816,1348 852,1348M852,1348 859,1356 871,1302 888,1269 946,1258 990,1259 1017,1278M852,1348 874,1370 888,1390 912,1407 937,1416 961,1423 990,1443 1017,1448M782,1017 806,1027 830,1036 854,1046 883,1065 912,1065 925,1070 932,1085 939,1114 929,1119 939,1131 942,1157 1000,1158 1000,1177 1017,1198M925,1070 942,1046 954,1024 946,1017M1017,1198 1024,1211 1029,1223 1017,1269 1019,1307 1017,1351 1065,1353 1090,1361 1097,1399 1102,1414 1136,1416 1138,1421 1131,1452 1128,1469 1148,1469 1157,1496 1157,1520M1027,1211 1046,1198 1075,1186 1104,1198 1133,1201 1155,1191 1157,1208 1148,1211 1177,1215M1259,1017 1257,1041 1269,1032 1264,1051 1254,1070 1249,1099 1230,1119 1220,1138 1196,1152 1177,1182 1174,1201 1177,1215 1186,1235 1220,1249 1249,1259 1247,1281 1230,1302 1220,1327 1201,1351 1182,1365 1160,1380 1145,1404 1138,1421M1249,1259 1269,1242 1300,1234M1264,1044 1288,1053 1307,1041 1327,1053 1356,1058 1385,1048 1407,1046M1407,1017 1407,1046 1414,1065 1410,1080M1249,1281 1278,1276 1302,1282M1182,1368 1211,1366 1244,1373 1283,1380 1295,1399 1307,1428 1307,1438 1332,1440 1346,1455M1409,656 1399,685 1390,709 1375,743 1356,770 1324,791 1341,796 1334,816 1327,830 1307,847 1310,864 1307,888 1288,912 1273,942 1269,961 1261,990 1259,1017M1324,791 1346,794 1365,796 1368,821 1363,845 1356,854 1370,874 1385,879 1399,886 1392,898 1382,912 1387,925 1399,937 1404,951 1419,956M1440,865 1423,888 1416,912 1421,937 1419,956M1419,956 1428,951 1440,972M1404,951 1399,971 1409,995 1404,1017M574,1853 575,1870 577,1884 582,1901 583,1907 574,1912 566,1915 565,1928 559,1937 555,1945 554,1957 549,1966 547,1978 549,1993 551,2010 553,2022 545,2024 541,2034 542,2049 549,2056 552,2068 555,2078 552,2087 552,2097 557,2099 574,2099 575,2105 571,2111 557,2111 545,2114 559,2119 566,2126 564,2133 554,2140 557,2150M555,2150 557,2162 555,2174 548,2181 545,2194 535,2201 528,2213 534,2223 535,2230 526,2236 525,2244 511,2254 504,2262 496,2264 493,2273 496,2285 502,2298 506,2308 516,2310 526,2307 534,2311 537,2319 533,2329 534,2339 543,2346 549,2352 569,2353 594,2353 613,2353 632,2357 652,2362 666,2364M658,2375 658,2446M836,539 851,545 855,556 860,571 864,586 864,604 869,616 873,625 869,634 863,637 872,646 881,656 890,659 897,665 893,655 894,640 902,631 912,629 920,635 926,641 935,637 936,625 941,613 947,603 983,603M984,569 984,603 984,616 989,628 1001,643 1011,652 1022,661 1037,668 1049,676 1058,685 1068,686 1078,680 1068,692 1004,830 998,836 1001,845 1008,857 1004,870 1002,888 1001,906 896,907M1008,857 1016,870 1023,885 1028,903 1040,912 1049,921 1058,926 1273,940" fill="none" stroke="#000" stroke-width="2" stroke-linejoin="round" stroke-linecap="round"/>
<g font-size="48.5" fill="#fff" stroke="#000" stroke-width="7.4" paint-order="stroke" stroke-linejoin="round" text-anchor="middle">
<text x="723.8" y="271.3" textLength="52.5" lengthAdjust="spacingAndGlyphs">19</text>
<text x="469.7" y="470.7" textLength="26.2" lengthAdjust="spacingAndGlyphs">8</text>
<text x="338.1" y="631.8" textLength="52.5" lengthAdjust="spacingAndGlyphs">12</text>
<text x="934.3" y="530.2" textLength="52.5" lengthAdjust="spacingAndGlyphs">24</text>
<text x="955.6" y="727.9" textLength="52.5" lengthAdjust="spacingAndGlyphs">25</text>
<text x="825.4" y="917.3" textLength="52.5" lengthAdjust="spacingAndGlyphs">22</text>
<text x="694.7" y="958.4" textLength="52.5" lengthAdjust="spacingAndGlyphs">18</text>
<text x="387.5" y="1021.3" textLength="52.5" lengthAdjust="spacingAndGlyphs">15</text>
<text x="1019.0" y="398.1" textLength="52.5" lengthAdjust="spacingAndGlyphs">23</text>
<text x="1121.0" y="428.6" textLength="52.5" lengthAdjust="spacingAndGlyphs">23</text>
<text x="1209.6" y="459.1" textLength="52.5" lengthAdjust="spacingAndGlyphs">22</text>
<text x="1255.5" y="622.1" textLength="52.5" lengthAdjust="spacingAndGlyphs">24</text>
<text x="1341.2" y="672.9" textLength="52.5" lengthAdjust="spacingAndGlyphs">24</text>
<text x="1481.5" y="708.2" textLength="52.5" lengthAdjust="spacingAndGlyphs">24</text>
<text x="1675.0" y="752.8" textLength="52.5" lengthAdjust="spacingAndGlyphs">20</text>
<text x="1531.4" y="793.9" textLength="52.5" lengthAdjust="spacingAndGlyphs">22</text>
<text x="1785.4" y="818.1" textLength="52.5" lengthAdjust="spacingAndGlyphs">21</text>
<text x="1798.4" y="861.6" textLength="52.5" lengthAdjust="spacingAndGlyphs">20</text>
<text x="1797.0" y="894.5" textLength="52.5" lengthAdjust="spacingAndGlyphs">21</text>
<text x="1768.4" y="946.3" textLength="52.5" lengthAdjust="spacingAndGlyphs">21</text>
<text x="1723.4" y="988.9" textLength="52.5" lengthAdjust="spacingAndGlyphs">21</text>
<text x="1346.0" y="966.6" textLength="52.5" lengthAdjust="spacingAndGlyphs">25</text>
<text x="1676.0" y="1058.1" textLength="52.5" lengthAdjust="spacingAndGlyphs">22</text>
<text x="1088.1" y="1146.2" textLength="52.5" lengthAdjust="spacingAndGlyphs">19</text>
<text x="1362.0" y="1152.4" textLength="52.5" lengthAdjust="spacingAndGlyphs">14</text>
<text x="1316.0" y="1182.4" textLength="52.5" lengthAdjust="spacingAndGlyphs">17</text>
<text x="1136.5" y="1308.3" textLength="52.5" lengthAdjust="spacingAndGlyphs">18</text>
<text x="1495.0" y="1290.3" textLength="52.5" lengthAdjust="spacingAndGlyphs">12</text>
<text x="1615.5" y="1303.4" textLength="52.5" lengthAdjust="spacingAndGlyphs">18</text>
<text x="1518.8" y="1390.9" textLength="52.5" lengthAdjust="spacingAndGlyphs">16</text>
<text x="1404.0" y="1412.3" textLength="52.5" lengthAdjust="spacingAndGlyphs">13</text>
<text x="1038.8" y="1470.9" textLength="52.5" lengthAdjust="spacingAndGlyphs">20</text>
<text x="1315.5" y="1475.2" textLength="52.5" lengthAdjust="spacingAndGlyphs">12</text>
<text x="1341.2" y="1547.8" textLength="52.5" lengthAdjust="spacingAndGlyphs">16</text>
<text x="1250.2" y="1629.1" textLength="52.5" lengthAdjust="spacingAndGlyphs">13</text>
<text x="1084.7" y="1788.7" textLength="52.5" lengthAdjust="spacingAndGlyphs">13</text>
<text x="1009.6" y="1788.4" textLength="52.5" lengthAdjust="spacingAndGlyphs">11</text>
<text x="675.4" y="1175.7" textLength="41" lengthAdjust="spacingAndGlyphs">-3</text>
<text x="588.3" y="1741.3" textLength="26.2" lengthAdjust="spacingAndGlyphs">8</text>
</g>
<path d="M444,2212 440,2210 437,2206 436,2202 440,2204 443,2209ZM447,2209 446,2207 447,2203 449,2200 450,2203 449,2208ZM464,2210 459,2210 453,2206 451,2201 455,2201 462,2206ZM463,2207 462,2208 461,2205 461,2202 462,2200 463,2198 464,2202 465,2204 464,2208ZM434,2219 431,2216 430,2212 430,2209 432,2211 433,2215ZM440,2221 439,2218 437,2216 436,2213 437,2211 437,2209 439,2212 440,2215 441,2219ZM450,2212 448,2213 446,2212 444,2211 444,2209 445,2208 447,2209 449,2210ZM453,2217 451,2216 449,2212 450,2209 453,2211 454,2215ZM464,2218 463,2217 462,2215 462,2211 462,2209 463,2209 464,2210 464,2214 465,2218ZM469,2218 468,2218 464,2213 461,2207 462,2207 467,2211 470,2216ZM439,2219 436,2220 430,2217 428,2213 432,2213 438,2216ZM442,2228 439,2223 438,2219 439,2214 440,2212 442,2214 444,2219 443,2224ZM447,2222 446,2220 446,2215 448,2210 449,2211 449,2216 448,2221ZM457,2228 455,2226 453,2222 451,2217 452,2215 453,2216 455,2221 457,2227ZM469,2221 467,2219 466,2218 465,2216 466,2215 467,2216 468,2217 469,2219ZM472,2222 471,2222 470,2219 469,2216 469,2214 471,2215 472,2218 473,2221ZM477,2223 477,2221 478,2219 481,2218 480,2221 478,2223ZM488,2224 485,2224 483,2219 482,2214 484,2213 487,2214 489,2218 489,2222ZM498,2222 496,2221 494,2219 491,2216 491,2214 492,2212 494,2213 497,2216 498,2219ZM433,2228 431,2228 427,2225 422,2222 421,2219 422,2217 425,2219 429,2222 433,2226ZM441,2231 439,2231 437,2228 437,2226 438,2225 440,2227 441,2230ZM452,2230 447,2229 440,2224 440,2222 442,2222 449,2226ZM450,2234 450,2231 452,2226 455,2223 456,2223 455,2228 453,2232ZM462,2230 461,2231 459,2229 459,2227 459,2227 460,2226 461,2227 462,2229ZM462,2233 463,2230 468,2225 471,2224 474,2224 470,2229 466,2232ZM482,2226 480,2226 479,2226 477,2224 476,2221 477,2221 479,2222 481,2223 482,2226ZM483,2233 481,2232 480,2229 479,2226 479,2223 480,2222 482,2224 483,2228 484,2233ZM488,2231 489,2227 490,2225 492,2223 494,2222 495,2223 494,2226 493,2228 490,2230ZM495,2229 495,2227 497,2222 500,2217 501,2218 499,2223 497,2229ZM424,2234 423,2233 422,2229 424,2225 425,2225 426,2224 426,2230 425,2234ZM436,2232 435,2233 433,2232 431,2231 431,2230 431,2229 432,2229 435,2230 435,2231ZM450,2239 446,2237 443,2235 439,2232 439,2229 441,2230 445,2233 448,2236ZM451,2236 449,2236 448,2234 446,2229 446,2228 447,2226 449,2228 451,2232 453,2236ZM460,2239 458,2238 456,2236 456,2234 455,2232 456,2231 458,2233 459,2235 459,2237ZM469,2233 466,2232 464,2231 464,2229 466,2229 468,2231ZM469,2236 471,2234 474,2232 479,2230 480,2231 481,2232 475,2235 470,2237ZM477,2237 475,2236 476,2229 479,2227 482,2229 480,2235ZM490,2234 488,2235 488,2231 488,2229 489,2228 490,2228 491,2231 490,2235ZM424,2243 423,2241 424,2238 425,2238 427,2239 426,2242ZM431,2241 430,2241 428,2239 426,2236 427,2234 427,2232 429,2235 432,2237 432,2240ZM450,2244 449,2244 446,2243 443,2241 439,2237 441,2237 445,2238 448,2240 451,2243ZM450,2243 449,2240 450,2239 451,2236 453,2233 454,2235 454,2237 453,2240 451,2243ZM459,2246 458,2246 457,2241 457,2235 458,2235 460,2240 460,2245ZM474,2239 474,2240 469,2240 466,2238 465,2237 463,2235 466,2235 471,2236 474,2237ZM470,2244 471,2242 474,2240 477,2239 480,2238 480,2240 479,2243 476,2244 472,2245ZM480,2242 482,2239 485,2236 488,2234 490,2234 490,2236 487,2239 483,2241ZM424,2252 424,2250 425,2247 427,2246 428,2245 429,2247 428,2249 425,2252ZM434,2252 432,2250 431,2245 432,2241 433,2241 435,2245 435,2249ZM439,2253 436,2249 438,2243 441,2239 444,2245 442,2250ZM460,2249 458,2247 458,2246 456,2243 457,2242 457,2241 459,2243 460,2245 461,2248ZM460,2245 460,2244 461,2243 463,2242 464,2242 464,2244 463,2245 462,2245ZM473,2252 471,2249 471,2245 472,2241 474,2237 476,2240 475,2246 475,2250ZM477,2250 477,2248 479,2246 480,2245 482,2245 481,2248 479,2250ZM429,2253 428,2251 429,2248 431,2248 432,2249 431,2252ZM438,2258 436,2257 437,2253 438,2248 439,2249 441,2249 440,2254 439,2257ZM447,2253 445,2252 444,2250 444,2248 446,2249 448,2251ZM452,2253 451,2252 452,2247 454,2245 454,2248 454,2253ZM464,2259 462,2259 461,2255 460,2251 460,2247 462,2250 464,2250 465,2255 464,2258ZM472,2259 471,2258 469,2255 468,2252 470,2252 471,2254 473,2257ZM489,2251 487,2251 484,2251 481,2251 478,2250 478,2249 482,2248 484,2249 486,2250ZM432,2267 430,2266 426,2264 424,2260 422,2256 424,2256 427,2257 431,2260 433,2264ZM441,2261 438,2262 433,2258 430,2254 431,2251 436,2254 441,2259ZM437,2263 436,2261 438,2257 443,2255 444,2256 445,2258 442,2261 439,2264ZM446,2268 446,2265 447,2262 449,2257 451,2257 453,2256 453,2260 451,2264 447,2268ZM463,2264 460,2264 456,2261 453,2256 453,2254 458,2258 462,2262ZM463,2268 462,2264 462,2257 462,2255 464,2257 464,2263ZM473,2265 471,2262 471,2256 473,2252 474,2255 475,2262ZM482,2263 481,2263 479,2259 479,2256 479,2254 480,2255 482,2255 482,2258 483,2262ZM436,2269 433,2268 430,2265 429,2262 429,2261 432,2262 434,2266ZM437,2274 436,2274 433,2269 432,2265 432,2263 434,2264 437,2268 437,2272ZM441,2272 444,2269 446,2267 451,2266 451,2267 451,2268 448,2271 444,2271ZM448,2276 448,2272 450,2266 452,2262 453,2264 453,2268 451,2272ZM464,2272 462,2267 462,2261 463,2258 465,2261 465,2267ZM465,2270 465,2268 465,2264 466,2261 468,2257 469,2260 468,2265 468,2268ZM482,2267 480,2268 478,2267 475,2266 476,2264 478,2265 481,2266ZM480,2273 479,2272 480,2269 481,2265 483,2265 484,2266 484,2268 484,2271 481,2273ZM428,2276 427,2276 425,2274 424,2272 423,2268 424,2267 426,2270 428,2273 430,2276ZM433,2278 432,2276 433,2272 434,2267 435,2266 437,2269 436,2273 435,2278ZM448,2280 446,2278 445,2275 445,2273 446,2271 448,2274 448,2277ZM455,2280 455,2277 455,2272 457,2266 458,2267 459,2269 459,2273 457,2277ZM467,2278 465,2277 465,2273 465,2272 467,2273 467,2276ZM479,2274 477,2274 473,2272 471,2268 471,2266 473,2266 478,2268 479,2272ZM481,2281 479,2277 479,2273 479,2267 480,2266 481,2268 482,2273 482,2278ZM430,2288 430,2286 430,2281 430,2276 430,2271 431,2271 432,2275 432,2281 431,2285ZM438,2285 437,2282 437,2279 438,2274 439,2272 440,2274 440,2279 439,2284ZM445,2286 444,2285 444,2283 444,2280 445,2278 446,2279 447,2281 447,2283 446,2285ZM455,2286 453,2285 453,2281 453,2279 454,2277 455,2279 456,2281 456,2285ZM457,2289 457,2286 460,2279 462,2276 462,2279 459,2287ZM470,2283 469,2282 468,2279 468,2275 469,2274 470,2271 471,2274 471,2279 471,2283ZM476,2282 476,2284 473,2280 472,2275 473,2274 475,2274 477,2278 477,2281ZM437,2293 433,2292 429,2286 428,2283 432,2283 437,2289ZM441,2292 439,2291 440,2282 442,2277 444,2282 443,2291ZM446,2290 446,2288 446,2283 448,2281 448,2284 448,2289ZM455,2290 456,2287 457,2283 459,2281 461,2281 460,2285 457,2287ZM467,2289 466,2288 465,2283 465,2280 467,2283 468,2287ZM474,2294 473,2291 473,2285 474,2281 475,2277 476,2280 476,2286 476,2289ZM481,2292 479,2290 477,2285 477,2282 480,2285 481,2289ZM428,2298 427,2297 427,2294 426,2290 427,2288 428,2287 429,2289 430,2294 429,2296ZM436,2298 435,2296 435,2293 437,2291 438,2291 438,2294 438,2297ZM448,2301 446,2301 447,2295 447,2290 448,2286 448,2289 449,2295 449,2300ZM453,2298 452,2296 452,2292 454,2288 456,2288 456,2291 456,2294 454,2297ZM460,2299 460,2298 461,2295 462,2294 464,2293 464,2295 463,2297 462,2298ZM463,2300 463,2296 465,2292 468,2291 469,2292 466,2297ZM476,2294 475,2293 477,2290 479,2286 480,2288 479,2291 477,2295ZM483,2300 482,2299 481,2297 481,2295 481,2292 482,2293 483,2294 483,2297 484,2300ZM432,2309 430,2308 429,2303 427,2300 429,2297 431,2298 433,2302 433,2306ZM442,2302 440,2301 441,2297 442,2295 443,2298 444,2301ZM450,2307 446,2304 444,2300 444,2297 447,2298 449,2302ZM458,2305 457,2304 457,2303 457,2301 458,2299 459,2300 460,2301 459,2303 459,2305ZM470,2305 470,2302 472,2299 475,2297 475,2300 472,2304ZM477,2309 476,2307 477,2301 479,2299 480,2297 480,2302 479,2307ZM491,2304 488,2304 487,2302 487,2300 488,2299 490,2301ZM434,2310 433,2306 435,2302 437,2302 437,2304 436,2307ZM450,2310 449,2310 447,2309 446,2308 445,2307 445,2305 447,2306 449,2308 450,2309ZM452,2312 452,2311 451,2309 452,2308 453,2307 454,2307 455,2308 454,2310 454,2311ZM463,2308 460,2308 458,2306 457,2304 459,2304 462,2306ZM468,2309 468,2307 470,2302 473,2301 474,2302 473,2304 471,2307ZM478,2310 477,2310 478,2306 479,2304 481,2303 481,2304 481,2307 479,2310ZM487,2310 486,2310 483,2311 480,2311 478,2310 480,2309 480,2308 483,2308 485,2309ZM489,2308 488,2306 488,2305 488,2303 490,2301 491,2303 491,2305 490,2307ZM434,2319 433,2318 432,2317 431,2315 431,2314 432,2314 434,2315 434,2316 435,2318ZM445,2319 443,2319 441,2317 440,2315 440,2311 441,2312 443,2312 444,2315 445,2318ZM447,2318 447,2315 450,2310 453,2305 454,2308 453,2312 450,2317ZM462,2319 461,2320 458,2318 457,2316 456,2315 455,2313 458,2314 460,2315 461,2317ZM469,2317 468,2317 464,2312 464,2308 465,2307 467,2310 471,2316ZM469,2316 469,2314 470,2311 472,2306 474,2303 474,2305 473,2311 470,2317ZM480,2314 479,2313 479,2311 481,2310 482,2311 481,2314ZM436,2325 434,2323 433,2319 433,2314 436,2318 437,2323ZM446,2329 443,2329 441,2323 440,2318 440,2315 443,2317 446,2321 447,2325ZM454,2325 454,2325 452,2323 450,2320 450,2318 451,2317 453,2319 455,2321 455,2324ZM464,2323 461,2323 459,2321 458,2319 459,2318 462,2319 463,2321ZM468,2323 466,2322 465,2320 464,2317 465,2314 467,2315 468,2319 468,2321ZM474,2324 474,2321 474,2317 475,2315 477,2311 478,2313 477,2318 476,2321ZM435,2331 435,2330 436,2327 438,2327 438,2329 436,2331ZM445,2331 443,2328 443,2325 443,2321 444,2322 445,2324 446,2327ZM451,2331 449,2329 448,2322 448,2318 451,2322 452,2327ZM461,2328 459,2327 454,2324 453,2322 455,2322 461,2325ZM460,2335 460,2330 463,2327 464,2326 465,2329 463,2333ZM472,2333 471,2331 471,2328 471,2325 473,2325 473,2328 473,2331ZM438,2343 435,2340 433,2335 432,2330 433,2328 436,2333 437,2338ZM444,2338 443,2337 442,2336 443,2333 443,2332 445,2332 445,2334 445,2336 445,2338ZM450,2338 448,2338 449,2332 451,2329 453,2326 453,2328 452,2333 451,2337ZM456,2339 455,2336 458,2332 461,2329 461,2332 459,2337ZM471,2336 470,2334 469,2332 470,2330 471,2331 472,2332 472,2334ZM437,2343 436,2342 438,2339 439,2337 440,2338 440,2340 439,2343ZM449,2344 446,2343 448,2336 451,2333 452,2336 452,2344ZM460,2349 457,2345 455,2340 456,2335 459,2335 461,2339 461,2345ZM468,2345 466,2345 462,2343 458,2339 456,2337 459,2337 461,2338 464,2340 466,2342ZM444,2349 443,2350 442,2349 440,2348 440,2346 441,2345 442,2346 444,2347 445,2349ZM467,2345 465,2345 463,2343 462,2341 464,2341 467,2343ZM476,2342 476,2343 474,2343 471,2343 471,2342 470,2341 472,2341 474,2341 476,2341ZM486,2348 484,2347 481,2345 477,2341 477,2339 479,2341 483,2343 486,2347ZM505,2348 502,2346 499,2344 496,2341 494,2337 496,2337 499,2338 503,2342 504,2345ZM509,2353 507,2350 505,2345 505,2341 505,2334 508,2337 510,2340 511,2344 511,2348ZM514,2347 512,2347 510,2345 510,2343 511,2343 513,2345ZM527,2350 524,2350 517,2345 517,2340 521,2341 528,2347ZM452,2350 449,2350 447,2350 445,2348 447,2347 450,2348ZM459,2347 457,2348 453,2349 449,2349 449,2348 449,2347 453,2346 457,2346ZM471,2349 470,2351 466,2354 462,2356 458,2358 459,2355 464,2351 470,2348ZM480,2351 479,2353 472,2355 468,2353 466,2351 472,2349 479,2349ZM484,2356 480,2355 476,2352 473,2349 474,2347 478,2349 482,2352ZM488,2355 486,2355 483,2354 482,2352 481,2351 484,2351 487,2353ZM502,2351 499,2352 494,2352 491,2351 490,2349 495,2349 500,2349ZM509,2349 506,2349 503,2348 500,2347 502,2346 504,2345 507,2347ZM515,2352 513,2353 511,2352 509,2351 510,2350 511,2350 514,2351ZM525,2350 524,2352 520,2356 513,2357 511,2355 512,2352 518,2350 524,2348ZM536,2346 533,2349 525,2351 521,2352 517,2351 524,2348 533,2346ZM455,2361 452,2362 448,2362 443,2359 443,2357 446,2355 450,2355 455,2359ZM460,2353 459,2355 456,2356 453,2355 453,2353 456,2352 459,2352ZM471,2359 469,2357 468,2354 467,2352 469,2353 471,2356ZM475,2355 475,2356 473,2359 471,2359 471,2357 474,2355ZM489,2358 487,2358 484,2356 482,2354 481,2353 483,2352 484,2352 487,2354 488,2356ZM495,2357 494,2359 492,2359 490,2360 489,2359 490,2358 491,2357 494,2356ZM502,2358 501,2358 500,2356 499,2354 501,2354 502,2355 503,2357ZM508,2357 506,2358 499,2355 498,2352 502,2352 508,2354ZM516,2356 513,2357 510,2357 507,2355 510,2354 513,2354ZM523,2357 521,2357 519,2355 517,2353 516,2351 516,2350 520,2351 521,2353 523,2356ZM535,2356 532,2357 526,2357 521,2356 525,2355 532,2355ZM459,2368 455,2366 451,2363 450,2357 452,2358 456,2359 458,2365ZM464,2361 462,2362 459,2362 458,2361 459,2360 462,2360ZM476,2370 473,2368 471,2364 471,2361 473,2363 476,2367ZM484,2366 484,2367 480,2367 475,2367 472,2365 474,2364 476,2363 480,2363 485,2364ZM488,2364 486,2365 484,2363 482,2362 482,2361 483,2360 486,2361 488,2363ZM496,2366 495,2366 494,2364 494,2362 494,2360 495,2360 496,2362 497,2364 497,2366ZM506,2369 504,2368 503,2367 503,2365 504,2364 505,2364 506,2365 506,2367ZM514,2364 513,2365 510,2363 510,2361 511,2361 514,2363ZM528,2370 525,2371 519,2369 514,2366 512,2363 515,2363 517,2362 521,2365 524,2366ZM531,2365 531,2366 523,2365 517,2362 514,2359 518,2359 525,2361 529,2363ZM457,2370 455,2372 451,2373 447,2373 444,2372 447,2370 451,2369 454,2369ZM458,2376 456,2375 454,2369 454,2364 458,2367 459,2374ZM471,2364 471,2365 471,2368 468,2371 467,2371 465,2371 465,2369 467,2366 468,2365ZM486,2374 484,2374 481,2374 480,2372 482,2371 485,2372ZM492,2371 490,2371 486,2369 487,2367 488,2367 491,2368ZM505,2369 505,2371 499,2371 495,2369 493,2366 497,2365 500,2366 504,2367ZM511,2370 510,2371 507,2373 505,2372 503,2371 507,2369 510,2369ZM522,2374 520,2375 515,2373 511,2370 510,2368 510,2366 513,2367 518,2368 520,2371ZM459,2381 458,2381 454,2381 452,2378 451,2376 452,2374 457,2376 460,2379ZM477,2381 475,2381 473,2379 471,2378 472,2377 473,2376 475,2377 476,2379ZM489,2378 484,2378 477,2378 475,2377 477,2375 483,2376ZM493,2380 488,2382 482,2382 480,2380 482,2378 489,2378ZM501,2385 499,2384 495,2381 493,2376 492,2372 495,2374 497,2375 500,2379 500,2381ZM509,2376 508,2377 504,2377 499,2376 498,2375 499,2374 504,2374 508,2374ZM511,2383 509,2382 506,2377 506,2374 509,2376 511,2381ZM529,2377 528,2379 524,2381 520,2382 521,2380 522,2378 526,2377ZM464,2388 461,2388 454,2383 453,2381 457,2381 463,2386ZM470,2388 467,2389 464,2387 461,2385 465,2385 468,2386ZM478,2390 477,2390 475,2388 473,2385 473,2382 475,2382 477,2383 479,2386 479,2389ZM487,2386 483,2385 478,2381 476,2378 479,2379 484,2382ZM500,2383 494,2384 492,2385 486,2385 484,2384 483,2383 486,2382 492,2382 496,2382ZM521,2382 520,2385 513,2388 508,2389 511,2386 519,2382ZM522,2386 520,2385 519,2384 519,2382 519,2381 520,2381 521,2382 522,2384ZM534,2385 532,2387 528,2385 523,2381 525,2380 530,2381 533,2383ZM476,2395 472,2395 466,2393 465,2389 465,2387 469,2387 475,2392ZM484,2388 483,2391 478,2392 473,2392 468,2393 469,2390 472,2388 477,2387 483,2386ZM488,2394 486,2393 485,2391 484,2389 485,2386 486,2386 487,2387 489,2390 489,2392ZM513,2388 510,2392 503,2392 497,2391 502,2389 509,2386ZM513,2392 510,2392 506,2392 503,2391 506,2390 511,2390ZM522,2396 519,2395 516,2391 515,2386 515,2383 517,2383 522,2388 523,2394ZM529,2400 527,2398 525,2391 526,2384 529,2386 532,2391 531,2397ZM537,2395 534,2393 529,2388 530,2386 532,2387 535,2390ZM484,2400 482,2400 482,2398 481,2395 482,2395 484,2396 485,2398ZM491,2396 490,2396 488,2394 488,2393 490,2392 491,2395ZM503,2394 501,2397 495,2400 490,2399 486,2397 494,2394 499,2393ZM510,2401 508,2402 505,2400 502,2398 503,2397 504,2396 507,2398 510,2399ZM517,2400 514,2399 510,2396 509,2393 512,2394 515,2396ZM527,2397 526,2399 518,2399 516,2397 518,2395 524,2395ZM530,2401 528,2400 526,2398 526,2396 528,2396 530,2398ZM544,2395 541,2397 536,2396 534,2395 536,2394 543,2394ZM484,2402 483,2403 481,2403 479,2403 480,2402 481,2400 482,2401ZM488,2406 486,2405 483,2402 483,2398 486,2399 489,2404ZM501,2411 497,2410 494,2408 491,2405 490,2403 492,2403 493,2403 497,2405 499,2407ZM503,2404 501,2404 499,2404 497,2403 498,2402 500,2401 502,2403ZM521,2405 520,2406 518,2406 516,2406 516,2405 517,2404 520,2404ZM528,2405 526,2406 523,2403 520,2400 519,2397 521,2398 525,2401 528,2404ZM538,2406 534,2408 528,2407 524,2404 529,2402 535,2403ZM501,2412 500,2412 494,2409 495,2407 497,2407 501,2410ZM513,2414 511,2415 506,2415 503,2413 501,2412 502,2411 507,2411 511,2412ZM516,2414 515,2414 512,2413 512,2411 513,2410 516,2412ZM521,2416 520,2416 519,2415 518,2413 518,2412 518,2411 521,2412 521,2414 522,2416ZM537,2416 535,2416 531,2414 528,2412 527,2410 529,2410 533,2411 536,2414ZM536,2421 533,2418 532,2412 532,2407 534,2403 536,2406 538,2411 539,2419ZM511,2423 508,2425 503,2422 500,2417 500,2415 499,2411 504,2413 509,2416 512,2422ZM517,2426 513,2424 511,2422 508,2417 507,2414 510,2416 514,2418 517,2423ZM522,2418 522,2419 519,2419 518,2419 516,2418 519,2417 521,2417ZM531,2423 529,2422 526,2420 523,2417 524,2415 526,2416 529,2418 531,2421ZM539,2422 534,2420 530,2416 529,2414 529,2411 533,2414 537,2418ZM555,2427 551,2424 548,2416 547,2411 551,2415 554,2423ZM566,2420 566,2421 560,2421 555,2420 552,2419 550,2418 554,2417 560,2417 564,2418ZM569,2423 567,2423 564,2423 561,2421 560,2419 561,2418 564,2419 567,2419 569,2420ZM579,2418 577,2419 573,2418 569,2416 570,2414 574,2414 579,2416ZM587,2422 584,2421 580,2417 577,2412 577,2410 580,2409 584,2414 587,2419ZM518,2425 516,2425 513,2423 511,2421 512,2420 515,2421 517,2423ZM526,2423 527,2424 520,2425 516,2424 513,2423 514,2422 520,2421 526,2422ZM530,2428 529,2428 528,2425 527,2423 529,2423 530,2424 531,2427ZM542,2424 542,2425 538,2424 534,2423 534,2422 535,2421 539,2422 542,2423ZM548,2430 546,2430 542,2427 542,2426 544,2425 546,2428ZM556,2425 554,2427 551,2428 546,2426 543,2424 545,2423 551,2422 555,2424ZM569,2428 566,2427 560,2423 556,2420 562,2421 568,2425ZM572,2418 571,2420 571,2424 569,2427 567,2428 566,2427 566,2425 567,2422 569,2419ZM585,2427 582,2427 575,2424 571,2422 575,2421 583,2424ZM593,2427 588,2427 584,2427 579,2424 579,2422 585,2422 591,2425ZM598,2427 596,2427 593,2426 590,2424 587,2422 588,2422 590,2422 594,2424 597,2426ZM602,2430 599,2431 595,2426 593,2424 593,2420 598,2423 602,2427ZM540,2432 536,2432 534,2432 531,2431 531,2429 534,2429 538,2430ZM552,2435 550,2435 549,2434 547,2432 546,2429 546,2429 549,2431 551,2432 553,2435ZM562,2433 560,2434 557,2434 555,2432 557,2431 560,2431ZM580,2432 577,2434 574,2433 569,2431 567,2429 570,2428 575,2428 579,2430ZM585,2428 586,2429 584,2430 582,2431 579,2431 580,2430 580,2428 583,2427 585,2427ZM594,2432 593,2433 590,2434 588,2433 586,2432 589,2431 593,2431ZM599,2431 597,2431 595,2430 594,2428 595,2428 595,2427 597,2428 599,2430ZM612,2431 609,2431 605,2430 602,2429 598,2427 598,2426 603,2426 606,2427 609,2429ZM618,2433 615,2434 611,2431 608,2430 607,2427 606,2424 611,2425 614,2428 617,2431ZM626,2431 625,2432 623,2435 620,2436 618,2435 618,2433 621,2432 624,2430ZM545,2441 542,2440 537,2439 534,2436 533,2432 539,2434 543,2438ZM550,2441 548,2442 545,2442 544,2441 545,2439 548,2439ZM553,2439 552,2438 551,2437 550,2436 550,2435 551,2434 553,2435 553,2436 554,2438ZM561,2445 558,2442 557,2435 559,2431 561,2435 563,2442ZM574,2442 572,2442 570,2438 568,2434 569,2433 571,2433 573,2436 574,2440ZM576,2443 573,2442 573,2439 572,2437 573,2437 575,2438 576,2441ZM587,2436 585,2439 582,2441 577,2441 577,2439 580,2437 584,2435ZM592,2445 591,2446 588,2442 586,2436 585,2432 587,2433 589,2433 592,2440 594,2445ZM607,2442 605,2441 603,2439 602,2434 602,2430 603,2429 606,2433 608,2437 608,2440ZM616,2440 616,2441 613,2442 611,2441 613,2440 615,2439ZM625,2439 625,2440 623,2442 618,2442 617,2441 615,2440 618,2439 622,2439 624,2438ZM641,2442 638,2441 634,2440 629,2437 628,2436 628,2435 630,2435 635,2437 639,2439ZM641,2439 639,2439 635,2438 634,2436 634,2435 637,2435 639,2437ZM560,2444 559,2445 556,2445 553,2443 552,2442 553,2441 557,2441 559,2442ZM564,2446 562,2445 561,2444 560,2442 559,2441 560,2440 562,2440 563,2443 564,2445ZM575,2448 572,2447 570,2443 569,2440 570,2440 573,2442 575,2446ZM579,2449 578,2447 576,2441 577,2438 578,2440 580,2446ZM597,2452 591,2450 587,2445 586,2440 590,2442 595,2446ZM610,2440 610,2441 608,2444 604,2446 601,2448 600,2447 602,2444 605,2441 608,2440ZM614,2442 614,2443 610,2445 607,2445 606,2444 609,2441 613,2441ZM625,2445 624,2446 622,2447 621,2446 620,2445 620,2444 622,2443 625,2444ZM637,2444 631,2445 625,2444 623,2443 625,2442 631,2442ZM644,2447 639,2447 634,2445 630,2442 627,2439 631,2438 636,2439 641,2443ZM574,2454 571,2453 567,2452 563,2449 561,2446 565,2447 569,2450 572,2452ZM581,2457 579,2457 576,2455 575,2454 575,2452 577,2453 580,2454ZM587,2447 586,2450 581,2452 576,2453 577,2450 579,2448 584,2446ZM591,2459 588,2456 587,2449 590,2444 594,2448 595,2456ZM601,2450 600,2450 598,2451 597,2450 596,2449 596,2448 597,2447 599,2448 600,2449ZM624,2449 624,2450 620,2450 618,2449 616,2448 620,2448 624,2448ZM643,2454 642,2454 639,2453 638,2451 639,2450 641,2451 644,2453ZM651,2454 650,2455 646,2455 644,2454 645,2453 650,2453ZM657,2451 657,2453 653,2454 650,2454 648,2454 652,2452 657,2450ZM669,2458 668,2459 663,2455 659,2449 662,2450 665,2452 669,2457ZM676,2450 673,2451 669,2451 664,2448 666,2448 670,2447 674,2449ZM592,2461 590,2461 588,2461 587,2459 587,2458 588,2457 590,2458 591,2459ZM601,2465 598,2464 596,2461 594,2456 596,2456 600,2459 602,2463ZM611,2461 608,2460 604,2458 601,2454 602,2453 606,2455 609,2458ZM619,2455 618,2457 613,2459 607,2461 606,2460 606,2459 612,2456 617,2455ZM630,2459 630,2460 626,2459 623,2457 623,2456 624,2455 627,2456 631,2457ZM635,2464 634,2463 633,2461 633,2459 634,2457 636,2458 636,2461 636,2464ZM646,2462 646,2463 643,2461 641,2458 639,2455 640,2455 643,2457 645,2459 647,2462ZM651,2459 650,2460 649,2459 646,2457 646,2456 645,2454 648,2455 650,2456 652,2459ZM666,2462 660,2464 655,2460 653,2455 658,2454 665,2457ZM668,2461 666,2462 663,2463 662,2461 663,2460 666,2459ZM624,2464 623,2466 619,2465 613,2465 611,2463 611,2462 615,2461 619,2462 625,2463ZM625,2470 624,2470 622,2468 622,2466 622,2465 624,2467 625,2469ZM632,2474 630,2473 628,2466 626,2458 629,2459 632,2465 633,2469ZM641,2465 640,2465 637,2464 635,2463 635,2461 636,2461 638,2462 640,2463ZM654,2467 651,2467 647,2466 643,2464 643,2463 647,2464 653,2466ZM661,2465 658,2466 655,2465 653,2465 650,2463 651,2462 656,2461 659,2463ZM665,2467 664,2468 662,2467 660,2467 660,2465 660,2465 663,2464 664,2465ZM678,2472 677,2473 672,2469 668,2467 666,2463 667,2462 670,2464 674,2467 676,2469ZM649,2471 649,2473 645,2475 640,2475 638,2474 640,2472 644,2471 647,2470ZM679,2471 675,2472 670,2471 666,2468 670,2467 677,2469ZM460,2085 460,2080 464,2077 468,2076 467,2079 463,2084ZM481,2083 479,2082 480,2078 481,2074 483,2075 483,2078 482,2082ZM461,2087 460,2087 457,2085 456,2082 457,2079 459,2081 460,2083 461,2085ZM470,2091 469,2089 469,2087 469,2085 470,2084 471,2085 472,2087 471,2089ZM474,2090 473,2090 472,2088 470,2085 471,2084 472,2084 473,2084 474,2087 474,2090ZM483,2084 481,2083 479,2082 479,2079 481,2080 483,2082ZM491,2084 490,2084 491,2081 493,2080 494,2081 495,2081 494,2083 492,2085ZM459,2089 458,2090 456,2091 454,2090 453,2089 454,2088 455,2087 457,2088 459,2088ZM465,2095 463,2094 463,2086 465,2082 467,2086 467,2093ZM472,2099 470,2096 470,2091 472,2089 474,2089 474,2092 474,2096ZM476,2093 476,2090 480,2085 483,2083 482,2087 480,2091ZM493,2094 489,2093 487,2089 487,2085 490,2086 493,2091ZM495,2091 494,2089 495,2086 497,2084 498,2087 497,2090ZM507,2095 505,2094 502,2094 501,2092 501,2090 504,2091 506,2093ZM473,2106 468,2104 463,2100 460,2096 461,2094 466,2097 471,2102ZM475,2099 475,2098 475,2095 476,2093 477,2093 477,2095 477,2097ZM486,2106 483,2103 480,2097 480,2093 481,2092 485,2095 486,2101ZM489,2103 488,2103 487,2100 487,2098 488,2097 489,2097 490,2098 491,2100 490,2102ZM499,2103 496,2102 494,2095 495,2089 498,2094 500,2101ZM507,2103 507,2102 506,2100 505,2098 505,2096 506,2095 508,2098 509,2100 509,2102ZM516,2100 515,2100 513,2097 512,2094 513,2092 514,2093 516,2096 517,2100ZM456,2114 456,2111 457,2106 458,2102 461,2099 463,2099 463,2105 461,2108 460,2111ZM461,2110 460,2108 461,2104 463,2101 465,2101 467,2101 468,2103 465,2107 463,2109ZM474,2108 471,2108 469,2107 465,2105 464,2103 464,2101 467,2103 471,2103 473,2106ZM486,2107 483,2107 478,2102 476,2099 480,2100 485,2105ZM489,2112 487,2109 486,2100 487,2098 489,2101 490,2108ZM498,2106 496,2105 494,2104 492,2100 492,2099 492,2098 494,2099 497,2102 499,2106ZM505,2111 502,2107 500,2099 503,2096 506,2098 507,2106ZM463,2117 462,2115 461,2111 462,2108 462,2107 464,2109 465,2111 464,2113ZM469,2118 468,2116 468,2113 469,2109 470,2108 470,2107 471,2111 470,2114 470,2118ZM483,2114 480,2114 477,2113 474,2111 475,2110 478,2110 481,2112ZM483,2122 481,2121 480,2116 480,2110 482,2107 484,2109 485,2111 486,2115 485,2121ZM488,2117 488,2114 489,2111 491,2108 494,2104 495,2103 495,2108 492,2113 490,2115ZM502,2120 498,2117 495,2111 495,2105 500,2109 503,2115ZM515,2118 513,2118 510,2117 509,2114 509,2112 510,2112 512,2112 513,2114 515,2116ZM455,2121 455,2120 457,2114 459,2110 460,2111 459,2115 457,2121ZM469,2124 467,2124 465,2122 462,2119 462,2116 465,2118 467,2119 469,2123ZM472,2125 469,2123 467,2119 466,2114 468,2111 470,2112 473,2113 474,2118 473,2122ZM503,2125 501,2125 497,2123 494,2120 492,2117 495,2117 497,2118 501,2119 501,2122ZM505,2120 504,2119 503,2113 504,2109 505,2113 507,2118ZM511,2120 511,2118 511,2116 513,2115 514,2116 514,2118 512,2120ZM522,2121 520,2119 515,2113 515,2111 517,2112 521,2117ZM453,2131 451,2129 450,2127 451,2126 453,2126 453,2129ZM460,2132 459,2132 458,2128 458,2125 459,2123 460,2123 461,2127 461,2131ZM473,2131 471,2131 466,2127 463,2123 466,2123 469,2125 473,2128ZM474,2131 474,2129 475,2125 477,2124 477,2127 476,2130ZM491,2124 490,2125 486,2124 485,2122 487,2121 490,2122ZM502,2128 500,2127 498,2123 497,2120 500,2122 503,2125ZM510,2130 509,2131 506,2125 505,2120 505,2117 505,2116 508,2120 509,2124 510,2128ZM519,2126 517,2126 515,2126 511,2124 510,2122 511,2120 513,2119 517,2122 520,2125ZM454,2136 453,2136 449,2133 446,2130 444,2127 446,2127 447,2128 451,2132 455,2136ZM462,2136 461,2137 459,2136 457,2135 454,2133 455,2132 457,2132 460,2133 463,2135ZM467,2133 463,2132 460,2129 460,2127 462,2127 466,2130ZM478,2134 474,2133 470,2132 467,2129 471,2129 475,2131ZM478,2139 477,2137 476,2133 477,2130 478,2130 479,2133 479,2137ZM492,2139 490,2139 486,2136 481,2133 480,2131 480,2130 484,2131 487,2133 491,2137ZM498,2136 495,2135 491,2130 492,2127 494,2128 499,2134ZM501,2134 500,2131 502,2126 505,2122 506,2126 503,2133ZM516,2136 513,2137 510,2134 508,2131 512,2131 516,2133ZM442,2144 442,2142 443,2138 445,2137 446,2139 444,2144ZM451,2145 449,2144 448,2138 449,2134 451,2134 452,2137 452,2142ZM458,2143 457,2142 456,2140 456,2137 457,2137 458,2137 459,2139 459,2141ZM468,2139 468,2138 468,2135 470,2133 471,2133 472,2134 471,2136 469,2139ZM474,2143 474,2141 474,2140 475,2137 476,2138 478,2137 478,2139 477,2142 475,2143ZM485,2142 482,2141 480,2135 481,2131 483,2132 486,2140ZM489,2141 488,2140 489,2139 489,2138 491,2137 492,2137 492,2139 491,2140 490,2141ZM502,2143 500,2142 498,2139 498,2136 500,2138 502,2141ZM508,2146 507,2141 507,2136 507,2130 508,2127 509,2132 509,2136 509,2141ZM448,2142 446,2144 442,2146 439,2145 439,2143 442,2142 446,2142ZM457,2144 456,2145 450,2147 445,2147 442,2146 444,2145 450,2143 455,2143ZM456,2151 455,2149 455,2147 456,2146 457,2147 457,2150ZM471,2144 468,2146 460,2146 454,2145 459,2143 466,2143ZM472,2147 471,2147 471,2145 471,2143 472,2142 473,2141 473,2142 474,2145 473,2148ZM479,2152 477,2150 476,2147 476,2143 478,2144 479,2146 480,2149ZM488,2150 487,2150 484,2149 482,2147 482,2146 485,2146 489,2149ZM495,2148 494,2148 491,2145 490,2142 490,2140 491,2138 492,2140 494,2143 495,2147ZM504,2151 502,2151 500,2149 499,2147 498,2146 499,2145 500,2145 502,2147 504,2150ZM511,2146 509,2146 507,2142 507,2138 508,2137 510,2141 511,2145ZM447,2159 446,2157 446,2153 448,2149 450,2149 453,2147 453,2151 451,2155 449,2158ZM477,2155 474,2153 472,2149 472,2144 474,2145 476,2147 478,2151ZM486,2156 484,2156 483,2152 483,2148 483,2145 485,2147 487,2151 487,2155ZM490,2155 487,2152 486,2147 486,2141 488,2145 491,2153ZM488,2170 488,2167 488,2161 489,2158 492,2153 493,2156 492,2162 490,2168ZM496,2161 496,2160 496,2158 497,2155 498,2153 499,2155 499,2156 498,2158 498,2160ZM484,2169 482,2168 481,2165 481,2161 481,2159 482,2160 484,2164 484,2167ZM913,305 911,304 910,303 910,301 911,300 912,300 913,302 913,304ZM915,305 913,304 913,301 914,299 915,299 916,301 916,304ZM922,304 922,304 920,304 919,303 919,302 919,301 920,302 921,302 923,303ZM911,307 910,306 909,304 910,302 911,303 912,305ZM915,306 913,306 914,304 915,304 916,305 915,306ZM918,307 917,308 915,307 915,305 915,304 917,304 918,305ZM920,305 920,304 921,303 922,303 923,303 923,304 922,306 921,306ZM912,309 911,310 908,310 906,309 908,308 911,308ZM912,311 910,310 910,308 911,306 912,307 913,309ZM915,309 914,309 914,307 915,306 916,305 917,305 917,307 917,308 916,310ZM920,310 919,309 917,308 917,305 918,304 919,305 920,307 921,308ZM924,312 923,311 922,310 921,308 921,307 922,306 923,307 924,309 924,310ZM911,313 910,313 909,312 909,310 909,309 910,308 911,309 912,310 912,312ZM916,313 916,314 913,313 911,312 911,310 911,310 913,310 915,311 916,312ZM919,312 917,313 916,311 916,309 918,309 920,311ZM922,313 921,313 921,311 920,309 921,308 922,309 923,311 922,313ZM910,316 909,316 908,316 908,315 908,314 909,314 910,315ZM911,318 910,316 910,312 912,310 913,313 913,317ZM918,314 916,315 914,315 912,314 914,313 916,313ZM919,317 918,316 918,315 918,313 918,313 920,313 920,313 920,315 920,317ZM924,317 923,317 921,315 922,313 923,312 924,313 925,316ZM914,319 913,319 911,319 909,319 908,318 908,317 909,317 911,317 913,318ZM916,320 915,320 914,318 913,316 913,313 915,314 916,316 917,318ZM919,320 917,319 917,316 918,315 919,315 920,319ZM925,319 923,319 921,318 919,316 920,315 921,315 923,315 925,318ZM909,325 908,322 907,320 908,318 909,317 910,319 910,320 910,322ZM912,322 911,322 910,320 909,318 911,318 912,319 913,321ZM916,323 915,323 914,322 915,320 916,320 917,320 918,321 917,322ZM921,321 920,322 918,321 917,319 918,318 920,318 922,320ZM926,322 924,323 921,321 919,320 920,319 922,319 925,320ZM912,325 911,325 909,323 910,322 910,321 912,322 912,324ZM915,325 914,325 913,324 913,323 914,322 915,322 916,323ZM917,325 916,323 918,321 920,321 920,324 919,324ZM924,325 923,326 921,325 920,323 921,322 922,322 923,323Z" fill="none" stroke="#000" stroke-width="2.1" stroke-linejoin="round"/>
<path d="M1641.3,2355.9 C1641.7,2358.8 1641.8,2367.0 1643.6,2373.2 C1645.4,2379.5 1647.9,2386.9 1652.2,2393.4 C1656.6,2399.9 1663.3,2407.3 1669.5,2412.1 C1675.8,2416.9 1682.7,2420.0 1689.7,2422.2 C1696.6,2424.3 1703.6,2425.3 1711.3,2425.1 C1719.0,2424.8 1727.8,2423.6 1735.8,2420.7 C1743.7,2417.9 1751.6,2413.8 1758.8,2407.8 C1766.0,2401.8 1773.5,2392.9 1779.0,2384.7 C1784.5,2376.6 1788.8,2367.9 1791.9,2358.8 C1795.1,2349.7 1796.7,2334.8 1797.7,2330.0 L1764.6,2330.0 C1764.1,2333.4 1763.6,2343.5 1761.7,2350.2 C1759.8,2356.9 1756.9,2364.1 1753.1,2370.3 C1749.2,2376.6 1743.9,2382.6 1738.6,2387.6 C1733.4,2392.7 1727.6,2397.8 1721.4,2400.6 C1715.1,2403.3 1707.9,2404.0 1701.2,2404.0 C1694.5,2404.0 1687.3,2402.8 1681.0,2400.6 C1674.8,2398.3 1668.8,2394.6 1663.8,2390.5 C1658.7,2386.4 1654.2,2380.9 1650.8,2376.1 C1647.4,2371.3 1645.2,2365.1 1643.6,2361.7 C1642.0,2358.3 1641.7,2356.9 1641.3,2355.9Z" fill="#0a76bd"/>
<path d="M1755.9,2330.6 L1781.9,2306.4 L1805.5,2330.6Z" fill="#0a76bd"/>
<path d="M1641.3,2356.5 C1641.2,2354.0 1639.6,2347.4 1640.7,2341.5 C1641.8,2335.7 1644.1,2327.6 1647.9,2321.4 C1651.8,2315.1 1657.8,2308.5 1663.8,2304.1 C1669.8,2299.7 1677.7,2296.7 1683.9,2294.9 C1690.2,2293.0 1695.4,2292.6 1701.2,2293.1 C1707.0,2293.7 1713.7,2295.5 1718.5,2298.3 C1723.3,2301.1 1727.1,2305.5 1730.0,2309.8 C1732.9,2314.2 1734.6,2319.0 1735.8,2324.2 C1737.0,2329.5 1737.0,2338.6 1737.2,2341.5 L1743.8,2341.5 L1719.1,2363.1 L1697.8,2341.5 L1706.4,2341.0 C1706.2,2339.6 1706.6,2335.7 1705.5,2332.9 C1704.4,2330.1 1702.4,2326.4 1699.8,2324.2 C1697.1,2322.1 1693.3,2320.8 1689.7,2319.9 C1686.1,2319.1 1682.0,2318.6 1678.2,2319.1 C1674.3,2319.5 1670.5,2320.5 1666.6,2322.8 C1662.8,2325.1 1658.5,2328.8 1655.1,2332.9 C1651.8,2337.0 1648.5,2342.4 1646.5,2347.3 C1644.4,2352.2 1643.4,2359.8 1642.7,2362.3" fill="none" stroke="#0a76bd" stroke-width="1.6" stroke-linejoin="miter"/>
<circle cx="1718.8" cy="2382.4" r="16.8" fill="#f39200"/>
<text x="1651.7" y="2370.3" font-size="23" font-weight="bold" font-style="italic" fill="#111" textLength="50" lengthAdjust="spacingAndGlyphs">INPE</text>
</g>
<rect x="177" y="177" width="1674" height="2310" fill="none" stroke="#000" stroke-width="3.4"/>
<text x="544" y="80" font-size="63.7" textLength="919" lengthAdjust="spacingAndGlyphs">SAMeT - Temperatura Mínima</text>
<text x="660" y="152.7" font-size="63.7" textLength="729" lengthAdjust="spacingAndGlyphs">Válida para 30/07/2014</text>
<text x="277.0" y="2547.7" font-size="51" text-anchor="middle" textLength="137" lengthAdjust="spacingAndGlyphs">80°W</text>
<text x="611.6" y="2547.7" font-size="51" text-anchor="middle" textLength="137" lengthAdjust="spacingAndGlyphs">70°W</text>
<text x="946.2" y="2547.7" font-size="51" text-anchor="middle" textLength="137" lengthAdjust="spacingAndGlyphs">60°W</text>
<text x="1280.8" y="2547.7" font-size="51" text-anchor="middle" textLength="137" lengthAdjust="spacingAndGlyphs">50°W</text>
<text x="1615.4" y="2547.7" font-size="51" text-anchor="middle" textLength="137" lengthAdjust="spacingAndGlyphs">40°W</text>
<text x="156" y="294.6" font-size="51" text-anchor="end" textLength="126" lengthAdjust="spacingAndGlyphs">10°N</text>
<text x="156" y="629.2" font-size="51" text-anchor="end" textLength="57" lengthAdjust="spacingAndGlyphs">0°</text>
<text x="156" y="963.8" font-size="51" text-anchor="end" textLength="120" lengthAdjust="spacingAndGlyphs">10°S</text>
<text x="156" y="1298.4" font-size="51" text-anchor="end" textLength="120" lengthAdjust="spacingAndGlyphs">20°S</text>
<text x="156" y="1633.0" font-size="51" text-anchor="end" textLength="120" lengthAdjust="spacingAndGlyphs">30°S</text>
<text x="156" y="1967.6" font-size="51" text-anchor="end" textLength="120" lengthAdjust="spacingAndGlyphs">40°S</text>
<text x="156" y="2302.2" font-size="51" text-anchor="end" textLength="120" lengthAdjust="spacingAndGlyphs">50°S</text>
<rect x="1894" y="2360.7" width="51" height="21.6" fill="#063365"/>
<rect x="1894" y="2339.7" width="51" height="21.6" fill="#09386c"/>
<rect x="1894" y="2318.7" width="51" height="21.6" fill="#0c3e74"/>
<rect x="1894" y="2297.7" width="51" height="21.6" fill="#0f437b"/>
<rect x="1894" y="2276.6" width="51" height="21.6" fill="#124883"/>
<rect x="1894" y="2255.6" width="51" height="21.6" fill="#144e8a"/>
<rect x="1894" y="2234.6" width="51" height="21.6" fill="#175392"/>
<rect x="1894" y="2213.6" width="51" height="21.6" fill="#1a5899"/>
<rect x="1894" y="2192.6" width="51" height="21.6" fill="#1d5ea1"/>
<rect x="1894" y="2171.6" width="51" height="21.6" fill="#2063a8"/>
<rect x="1894" y="2150.6" width="51" height="21.6" fill="#2368ad"/>
<rect x="1894" y="2129.6" width="51" height="21.6" fill="#266daf"/>
<rect x="1894" y="2108.6" width="51" height="21.6" fill="#2a71b2"/>
<rect x="1894" y="2087.6" width="51" height="21.6" fill="#2d76b4"/>
<rect x="1894" y="2066.5" width="51" height="21.6" fill="#307ab6"/>
<rect x="1894" y="2045.5" width="51" height="21.6" fill="#347fb9"/>
<rect x="1894" y="2024.5" width="51" height="21.6" fill="#3783bb"/>
<rect x="1894" y="2003.5" width="51" height="21.6" fill="#3a88bd"/>
<rect x="1894" y="1982.5" width="51" height="21.6" fill="#3e8cc0"/>
<rect x="1894" y="1961.5" width="51" height="21.6" fill="#4191c2"/>
<rect x="1894" y="1940.5" width="51" height="21.6" fill="#4796c4"/>
<rect x="1894" y="1919.5" width="51" height="21.6" fill="#4f9ac7"/>
<rect x="1894" y="1898.5" width="51" height="21.6" fill="#57a0ca"/>
<rect x="1894" y="1877.5" width="51" height="21.6" fill="#5fa4cc"/>
<rect x="1894" y="1856.5" width="51" height="21.6" fill="#67aacf"/>
<rect x="1894" y="1835.4" width="51" height="21.6" fill="#6eaed2"/>
<rect x="1894" y="1814.4" width="51" height="21.6" fill="#76b4d5"/>
<rect x="1894" y="1793.4" width="51" height="21.6" fill="#7eb8d7"/>
<rect x="1894" y="1772.4" width="51" height="21.6" fill="#86beda"/>
<rect x="1894" y="1751.4" width="51" height="21.6" fill="#8ec2dd"/>
<rect x="1894" y="1730.4" width="51" height="21.6" fill="#95c7df"/>
<rect x="1894" y="1709.4" width="51" height="21.6" fill="#9bcae1"/>
<rect x="1894" y="1688.4" width="51" height="21.6" fill="#a2cde2"/>
<rect x="1894" y="1667.4" width="51" height="21.6" fill="#a8d0e4"/>
<rect x="1894" y="1646.4" width="51" height="21.6" fill="#aed3e6"/>
<rect x="1894" y="1625.3" width="51" height="21.6" fill="#b5d7e8"/>
<rect x="1894" y="1604.3" width="51" height="21.6" fill="#bbdaea"/>
<rect x="1894" y="1583.3" width="51" height="21.6" fill="#c1ddec"/>
<rect x="1894" y="1562.3" width="51" height="21.6" fill="#c8e0ed"/>
<rect x="1894" y="1541.3" width="51" height="21.6" fill="#cee3ef"/>
<rect x="1894" y="1520.3" width="51" height="21.6" fill="#d3e6f0"/>
<rect x="1894" y="1499.3" width="51" height="21.6" fill="#d7e8f1"/>
<rect x="1894" y="1478.3" width="51" height="21.6" fill="#daeaf2"/>
<rect x="1894" y="1457.3" width="51" height="21.6" fill="#deebf2"/>
<rect x="1894" y="1436.2" width="51" height="21.6" fill="#e2edf3"/>
<rect x="1894" y="1415.2" width="51" height="21.6" fill="#e6eff4"/>
<rect x="1894" y="1394.2" width="51" height="21.6" fill="#eaf1f5"/>
<rect x="1894" y="1373.2" width="51" height="21.6" fill="#eef2f5"/>
<rect x="1894" y="1352.2" width="51" height="21.6" fill="#f1f4f6"/>
<rect x="1894" y="1331.2" width="51" height="21.6" fill="#f5f6f7"/>
<rect x="1894" y="1310.2" width="51" height="21.6" fill="#f7f6f5"/>
<rect x="1894" y="1289.2" width="51" height="21.6" fill="#f8f3f0"/>
<rect x="1894" y="1268.2" width="51" height="21.6" fill="#f8f0eb"/>
<rect x="1894" y="1247.2" width="51" height="21.6" fill="#f9ede6"/>
<rect x="1894" y="1226.1" width="51" height="21.6" fill="#faeae1"/>
<rect x="1894" y="1205.1" width="51" height="21.6" fill="#fae8dd"/>
<rect x="1894" y="1184.1" width="51" height="21.6" fill="#fbe5d8"/>
<rect x="1894" y="1163.1" width="51" height="21.6" fill="#fce2d3"/>
<rect x="1894" y="1142.1" width="51" height="21.6" fill="#fcdfce"/>
<rect x="1894" y="1121.1" width="51" height="21.6" fill="#fddcc9"/>
<rect x="1894" y="1100.1" width="51" height="21.6" fill="#fdd8c4"/>
<rect x="1894" y="1079.1" width="51" height="21.6" fill="#fcd3bd"/>
<rect x="1894" y="1058.1" width="51" height="21.6" fill="#fbceb6"/>
<rect x="1894" y="1037.1" width="51" height="21.6" fill="#fac8af"/>
<rect x="1894" y="1016.0" width="51" height="21.6" fill="#f9c3a8"/>
<rect x="1894" y="995.0" width="51" height="21.6" fill="#f8bda1"/>
<rect x="1894" y="974.0" width="51" height="21.6" fill="#f7b89a"/>
<rect x="1894" y="953.0" width="51" height="21.6" fill="#f6b293"/>
<rect x="1894" y="932.0" width="51" height="21.6" fill="#f5ad8c"/>
<rect x="1894" y="911.0" width="51" height="21.6" fill="#f4a885"/>
<rect x="1894" y="890.0" width="51" height="21.6" fill="#f2a27f"/>
<rect x="1894" y="869.0" width="51" height="21.6" fill="#f09b7a"/>
<rect x="1894" y="848.0" width="51" height="21.6" fill="#ec9475"/>
<rect x="1894" y="827.0" width="51" height="21.6" fill="#ea8d6f"/>
<rect x="1894" y="806.0" width="51" height="21.6" fill="#e6866a"/>
<rect x="1894" y="784.9" width="51" height="21.6" fill="#e47f65"/>
<rect x="1894" y="763.9" width="51" height="21.6" fill="#e07860"/>
<rect x="1894" y="742.9" width="51" height="21.6" fill="#de715a"/>
<rect x="1894" y="721.9" width="51" height="21.6" fill="#da6a55"/>
<rect x="1894" y="700.9" width="51" height="21.6" fill="#d86350"/>
<rect x="1894" y="679.9" width="51" height="21.6" fill="#d45c4b"/>
<rect x="1894" y="658.9" width="51" height="21.6" fill="#d15548"/>
<rect x="1894" y="637.9" width="51" height="21.6" fill="#cd4e44"/>
<rect x="1894" y="616.9" width="51" height="21.6" fill="#c94741"/>
<rect x="1894" y="595.9" width="51" height="21.6" fill="#c6403e"/>
<rect x="1894" y="574.8" width="51" height="21.6" fill="#c2383a"/>
<rect x="1894" y="553.8" width="51" height="21.6" fill="#bf3137"/>
<rect x="1894" y="532.8" width="51" height="21.6" fill="#bb2a34"/>
<rect x="1894" y="511.8" width="51" height="21.6" fill="#b72330"/>
<rect x="1894" y="490.8" width="51" height="21.6" fill="#b41c2d"/>
<rect x="1894" y="469.8" width="51" height="21.6" fill="#ae172a"/>
<rect x="1894" y="448.8" width="51" height="21.6" fill="#a71429"/>
<rect x="1894" y="427.8" width="51" height="21.6" fill="#9f1228"/>
<rect x="1894" y="406.8" width="51" height="21.6" fill="#981027"/>
<rect x="1894" y="385.8" width="51" height="21.6" fill="#900d26"/>
<rect x="1894" y="364.7" width="51" height="21.6" fill="#890b24"/>
<rect x="1894" y="343.7" width="51" height="21.6" fill="#810823"/>
<rect x="1894" y="322.7" width="51" height="21.6" fill="#7a0622"/>
<rect x="1894" y="301.7" width="51" height="21.6" fill="#720421"/>
<rect x="1894" y="280.7" width="51" height="21.6" fill="#6b0120"/>
<path d="M1894,281 L1919.5,177 L1945,281Z" fill="#67001f"/>
<path d="M1894,2382 L1919.5,2487 L1945,2382Z" fill="#053061"/>
<path d="M1894,281 L1919.5,177 L1945,281 L1945,2382 L1919.5,2487 L1894,2382Z" fill="none" stroke="#000" stroke-width="3.4" stroke-linejoin="miter"/>
<line x1="1945" y1="2382.0" x2="1960" y2="2382.0" stroke="#000" stroke-width="3.4"/>
<text x="1976" y="2403.0" font-size="49.5" textLength="74.8" lengthAdjust="spacingAndGlyphs">-15</text>
<line x1="1945" y1="2171.9" x2="1960" y2="2171.9" stroke="#000" stroke-width="3.4"/>
<text x="1976" y="2192.9" font-size="49.5" textLength="74.8" lengthAdjust="spacingAndGlyphs">-10</text>
<line x1="1945" y1="1961.8" x2="1960" y2="1961.8" stroke="#000" stroke-width="3.4"/>
<text x="1976" y="1982.8" font-size="49.5" textLength="45.7" lengthAdjust="spacingAndGlyphs">-5</text>
<line x1="1945" y1="1751.7" x2="1960" y2="1751.7" stroke="#000" stroke-width="3.4"/>
<text x="1976" y="1772.7" font-size="49.5" textLength="29.2" lengthAdjust="spacingAndGlyphs">0</text>
<line x1="1945" y1="1541.6" x2="1960" y2="1541.6" stroke="#000" stroke-width="3.4"/>
<text x="1976" y="1562.6" font-size="49.5" textLength="29.2" lengthAdjust="spacingAndGlyphs">5</text>
<line x1="1945" y1="1331.5" x2="1960" y2="1331.5" stroke="#000" stroke-width="3.4"/>
<text x="1976" y="1352.5" font-size="49.5" textLength="58.3" lengthAdjust="spacingAndGlyphs">10</text>
<line x1="1945" y1="1121.4" x2="1960" y2="1121.4" stroke="#000" stroke-width="3.4"/>
<text x="1976" y="1142.4" font-size="49.5" textLength="58.3" lengthAdjust="spacingAndGlyphs">15</text>
<line x1="1945" y1="911.3" x2="1960" y2="911.3" stroke="#000" stroke-width="3.4"/>
<text x="1976" y="932.3" font-size="49.5" textLength="58.3" lengthAdjust="spacingAndGlyphs">20</text>
<line x1="1945" y1="701.2" x2="1960" y2="701.2" stroke="#000" stroke-width="3.4"/>
<text x="1976" y="722.2" font-size="49.5" textLength="58.3" lengthAdjust="spacingAndGlyphs">25</text>
<line x1="1945" y1="491.1" x2="1960" y2="491.1" stroke="#000" stroke-width="3.4"/>
<text x="1976" y="512.1" font-size="49.5" textLength="58.3" lengthAdjust="spacingAndGlyphs">30</text>
<line x1="1945" y1="281.0" x2="1960" y2="281.0" stroke="#000" stroke-width="3.4"/>
<text x="1976" y="302.0" font-size="49.5" textLength="58.3" lengthAdjust="spacingAndGlyphs">35</text>
<text x="1910" y="175" font-size="49" text-anchor="middle" textLength="96" lengthAdjust="spacingAndGlyphs">(°C)</text>
</svg></body></html>
